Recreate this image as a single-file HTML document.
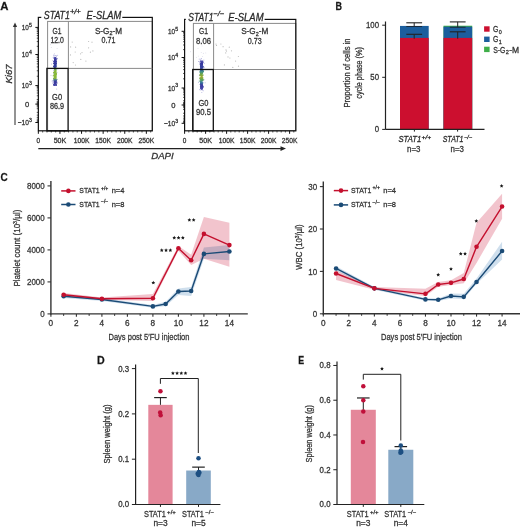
<!DOCTYPE html>
<html><head><meta charset="utf-8"><style>
html,body{margin:0;padding:0;background:#fff;}
body{width:520px;height:528px;overflow:hidden;}
svg{display:block;font-family:"Liberation Sans", sans-serif;}
text{stroke:#333;stroke-width:0.28px;}
</style></head><body>
<svg width="520" height="528" viewBox="0 0 520 528">
<rect width="520" height="528" fill="#fff"/>
<text x="0.2" y="9.7" font-size="11" font-weight="bold" textLength="8.2" lengthAdjust="spacingAndGlyphs" fill="#111">A</text>
<text x="335.5" y="9.6" font-size="11" font-weight="bold" textLength="6.5" lengthAdjust="spacingAndGlyphs" fill="#111">B</text>
<text x="0.6" y="181.0" font-size="11" font-weight="bold" textLength="7.2" lengthAdjust="spacingAndGlyphs" fill="#111">C</text>
<text x="97.1" y="363.5" font-size="11" font-weight="bold" textLength="7.7" lengthAdjust="spacingAndGlyphs" fill="#111">D</text>
<text x="298.3" y="363.5" font-size="11" font-weight="bold" textLength="5.9" lengthAdjust="spacingAndGlyphs" fill="#111">E</text>
<rect x="47.6" y="21.4" width="104.70000000000002" height="109.4" fill="none" stroke="#8a8a8a" stroke-width="1.0"/>
<rect x="38.35" y="17.4" width="113.95000000000002" height="113.4" fill="none" stroke="#111" stroke-width="1.2"/>
<line x1="68.4" y1="21.4" x2="68.4" y2="68.4" stroke="#8a8a8a" stroke-width="1.0"/>
<line x1="68.4" y1="68.4" x2="152.3" y2="68.4" stroke="#8a8a8a" stroke-width="1.0"/>
<circle cx="73.2" cy="62.6" r="0.6" fill="#bdbdbd"/>
<circle cx="88.6" cy="47.8" r="0.6" fill="#bdbdbd"/>
<circle cx="82.0" cy="52.6" r="0.6" fill="#bdbdbd"/>
<circle cx="85.9" cy="61.1" r="0.6" fill="#bdbdbd"/>
<circle cx="72.2" cy="42.1" r="0.6" fill="#bdbdbd"/>
<circle cx="90.4" cy="52.2" r="0.6" fill="#bdbdbd"/>
<circle cx="88.6" cy="41.5" r="0.6" fill="#bdbdbd"/>
<circle cx="80.8" cy="59.4" r="0.6" fill="#bdbdbd"/>
<circle cx="75.5" cy="65.0" r="0.6" fill="#bdbdbd"/>
<circle cx="92.0" cy="42.2" r="0.6" fill="#bdbdbd"/>
<circle cx="70.5" cy="54.9" r="0.6" fill="#bdbdbd"/>
<circle cx="92.9" cy="50.9" r="0.6" fill="#bdbdbd"/>
<circle cx="75.2" cy="52.0" r="0.6" fill="#bdbdbd"/>
<circle cx="70.6" cy="46.9" r="0.6" fill="#bdbdbd"/>
<circle cx="80.6" cy="53.8" r="0.6" fill="#bdbdbd"/>
<circle cx="75.6" cy="47.2" r="0.6" fill="#bdbdbd"/>
<circle cx="55.7" cy="42.4" r="0.45" fill="#c4c4d8"/>
<circle cx="58.4" cy="37.8" r="0.45" fill="#c4c4d8"/>
<circle cx="57.1" cy="48.4" r="0.45" fill="#c4c4d8"/>
<circle cx="51.8" cy="40.6" r="0.45" fill="#c4c4d8"/>
<circle cx="61.0" cy="39.5" r="0.45" fill="#c4c4d8"/>
<circle cx="54.8" cy="43.1" r="0.45" fill="#c4c4d8"/>
<circle cx="54.3" cy="53.5" r="0.45" fill="#c4c4d8"/>
<circle cx="50.4" cy="44.7" r="0.45" fill="#c4c4d8"/>
<circle cx="57.3" cy="42.6" r="0.45" fill="#c4c4d8"/>
<circle cx="51.2" cy="47.5" r="0.45" fill="#c4c4d8"/>
<circle cx="56.1" cy="85.4" r="0.5" fill="#b4b4e0"/>
<circle cx="53.6" cy="75.2" r="0.5" fill="#b4b4e0"/>
<circle cx="55.2" cy="55.8" r="0.5" fill="#b4b4e0"/>
<circle cx="57.8" cy="69.1" r="0.5" fill="#b4b4e0"/>
<circle cx="52.9" cy="60.6" r="0.5" fill="#b4b4e0"/>
<circle cx="54.4" cy="78.1" r="0.5" fill="#b4b4e0"/>
<circle cx="53.4" cy="67.7" r="0.5" fill="#b4b4e0"/>
<circle cx="55.8" cy="81.8" r="0.5" fill="#b4b4e0"/>
<circle cx="53.7" cy="72.8" r="0.5" fill="#b4b4e0"/>
<circle cx="56.2" cy="55.6" r="0.5" fill="#b4b4e0"/>
<circle cx="53.9" cy="56.1" r="0.5" fill="#b4b4e0"/>
<circle cx="51.0" cy="75.3" r="0.5" fill="#b4b4e0"/>
<circle cx="56.0" cy="68.3" r="0.5" fill="#b4b4e0"/>
<circle cx="56.7" cy="88.9" r="0.5" fill="#b4b4e0"/>
<circle cx="52.2" cy="81.5" r="0.5" fill="#b4b4e0"/>
<circle cx="54.4" cy="62.7" r="0.5" fill="#b4b4e0"/>
<circle cx="57.0" cy="72.5" r="0.5" fill="#b4b4e0"/>
<circle cx="54.5" cy="70.6" r="0.5" fill="#b4b4e0"/>
<circle cx="51.5" cy="64.0" r="0.5" fill="#b4b4e0"/>
<circle cx="54.0" cy="54.8" r="0.5" fill="#b4b4e0"/>
<circle cx="56.4" cy="81.9" r="0.5" fill="#b4b4e0"/>
<circle cx="52.3" cy="80.4" r="0.5" fill="#b4b4e0"/>
<circle cx="53.2" cy="82.8" r="0.5" fill="#b4b4e0"/>
<circle cx="54.9" cy="69.5" r="0.5" fill="#b4b4e0"/>
<circle cx="56.4" cy="56.6" r="0.5" fill="#b4b4e0"/>
<circle cx="53.7" cy="61.6" r="0.5" fill="#b4b4e0"/>
<circle cx="53.7" cy="72.2" r="0.5" fill="#b4b4e0"/>
<circle cx="55.2" cy="66.7" r="0.5" fill="#b4b4e0"/>
<circle cx="53.6" cy="73.4" r="0.5" fill="#b4b4e0"/>
<circle cx="53.7" cy="70.6" r="0.5" fill="#b4b4e0"/>
<circle cx="55.2" cy="55.6" r="0.5" fill="#b4b4e0"/>
<circle cx="56.0" cy="75.0" r="0.5" fill="#b4b4e0"/>
<circle cx="55.9" cy="84.6" r="0.5" fill="#b4b4e0"/>
<circle cx="52.5" cy="83.1" r="0.5" fill="#b4b4e0"/>
<circle cx="56.3" cy="63.5" r="0.5" fill="#b4b4e0"/>
<circle cx="53.2" cy="57.5" r="0.5" fill="#b4b4e0"/>
<circle cx="57.6" cy="55.2" r="0.5" fill="#b4b4e0"/>
<circle cx="55.3" cy="63.3" r="0.5" fill="#b4b4e0"/>
<circle cx="54.1" cy="58.4" r="0.5" fill="#b4b4e0"/>
<circle cx="54.1" cy="57.0" r="0.5" fill="#b4b4e0"/>
<circle cx="54.2" cy="60.2" r="0.5" fill="#b4b4e0"/>
<circle cx="54.9" cy="64.1" r="0.5" fill="#b4b4e0"/>
<circle cx="53.8" cy="79.4" r="0.5" fill="#b4b4e0"/>
<circle cx="55.5" cy="71.1" r="0.5" fill="#b4b4e0"/>
<circle cx="53.9" cy="55.4" r="0.5" fill="#b4b4e0"/>
<circle cx="55.6" cy="62.8" r="0.6" fill="#373c9e"/>
<circle cx="55.8" cy="60.6" r="0.6" fill="#393a9f"/>
<circle cx="54.6" cy="63.4" r="0.6" fill="#373c9e"/>
<circle cx="55.2" cy="74.5" r="0.6" fill="#89ba3a"/>
<circle cx="55.0" cy="58.1" r="0.6" fill="#4747aa"/>
<circle cx="55.0" cy="61.7" r="0.6" fill="#383b9f"/>
<circle cx="54.7" cy="77.3" r="0.6" fill="#8bbb3a"/>
<circle cx="54.6" cy="76.5" r="0.6" fill="#8abb3a"/>
<circle cx="55.0" cy="84.8" r="0.6" fill="#4444a6"/>
<circle cx="54.6" cy="79.9" r="0.6" fill="#4e7e93"/>
<circle cx="55.0" cy="75.7" r="0.6" fill="#8aba3a"/>
<circle cx="54.6" cy="68.6" r="0.6" fill="#528873"/>
<circle cx="54.8" cy="75.2" r="0.6" fill="#89ba3a"/>
<circle cx="54.6" cy="59.2" r="0.6" fill="#3f3fa4"/>
<circle cx="56.8" cy="82.0" r="0.6" fill="#3c3ca1"/>
<circle cx="55.5" cy="66.1" r="0.6" fill="#343f9c"/>
<circle cx="54.6" cy="83.8" r="0.6" fill="#4141a4"/>
<circle cx="54.7" cy="78.4" r="0.6" fill="#80b04a"/>
<circle cx="55.4" cy="57.8" r="0.6" fill="#4949ab"/>
<circle cx="56.3" cy="82.1" r="0.6" fill="#3d3da1"/>
<circle cx="55.4" cy="84.4" r="0.6" fill="#4343a5"/>
<circle cx="55.7" cy="73.5" r="0.6" fill="#88b93b"/>
<circle cx="56.3" cy="84.8" r="0.6" fill="#4444a6"/>
<circle cx="54.4" cy="77.2" r="0.6" fill="#8bbb3a"/>
<circle cx="55.1" cy="67.3" r="0.6" fill="#394c95"/>
<circle cx="54.8" cy="63.3" r="0.6" fill="#373c9e"/>
<circle cx="54.5" cy="63.0" r="0.6" fill="#373c9e"/>
<circle cx="54.8" cy="60.5" r="0.6" fill="#393a9f"/>
<circle cx="54.6" cy="71.5" r="0.6" fill="#87b83b"/>
<circle cx="56.1" cy="66.7" r="0.6" fill="#343f9c"/>
<circle cx="54.0" cy="58.1" r="0.6" fill="#4747aa"/>
<circle cx="54.2" cy="63.2" r="0.6" fill="#373c9e"/>
<circle cx="56.9" cy="79.4" r="0.6" fill="#5c8c7e"/>
<circle cx="55.3" cy="67.1" r="0.6" fill="#35429a"/>
<circle cx="56.1" cy="81.0" r="0.6" fill="#3a3b9f"/>
<circle cx="54.3" cy="83.6" r="0.6" fill="#4141a4"/>
<circle cx="56.3" cy="76.8" r="0.6" fill="#8bbb3a"/>
<circle cx="55.6" cy="71.1" r="0.6" fill="#86b83b"/>
<circle cx="55.1" cy="77.8" r="0.6" fill="#8bbb3a"/>
<circle cx="55.8" cy="60.0" r="0.6" fill="#3a3aa0"/>
<circle cx="56.4" cy="63.5" r="0.6" fill="#363d9d"/>
<circle cx="54.0" cy="78.8" r="0.6" fill="#72a25f"/>
<circle cx="54.3" cy="67.9" r="0.6" fill="#446786"/>
<circle cx="54.7" cy="67.1" r="0.6" fill="#354499"/>
<circle cx="56.4" cy="74.5" r="0.6" fill="#89ba3a"/>
<circle cx="55.4" cy="84.2" r="0.6" fill="#4343a5"/>
<circle cx="54.9" cy="73.0" r="0.6" fill="#88b93b"/>
<circle cx="55.4" cy="60.5" r="0.6" fill="#393a9f"/>
<circle cx="55.2" cy="81.8" r="0.6" fill="#3c3ca1"/>
<circle cx="55.4" cy="79.6" r="0.6" fill="#578786"/>
<circle cx="54.6" cy="74.8" r="0.6" fill="#89ba3a"/>
<circle cx="54.5" cy="79.4" r="0.6" fill="#5d8d7d"/>
<circle cx="55.7" cy="63.8" r="0.6" fill="#363d9d"/>
<circle cx="54.9" cy="59.9" r="0.6" fill="#3a3aa0"/>
<circle cx="56.5" cy="73.3" r="0.6" fill="#88b93b"/>
<circle cx="54.6" cy="83.4" r="0.6" fill="#4040a3"/>
<circle cx="55.2" cy="79.6" r="0.6" fill="#588884"/>
<circle cx="56.1" cy="80.7" r="0.6" fill="#3e4d9e"/>
<circle cx="55.2" cy="60.2" r="0.6" fill="#393a9f"/>
<circle cx="55.2" cy="60.8" r="0.6" fill="#393a9f"/>
<circle cx="55.0" cy="64.3" r="0.6" fill="#363d9d"/>
<circle cx="54.8" cy="85.2" r="0.6" fill="#4545a6"/>
<circle cx="55.3" cy="62.3" r="0.6" fill="#383b9e"/>
<circle cx="55.1" cy="64.3" r="0.6" fill="#363d9d"/>
<circle cx="54.8" cy="83.0" r="0.6" fill="#3f3fa3"/>
<circle cx="56.6" cy="68.2" r="0.6" fill="#49737f"/>
<circle cx="54.8" cy="65.8" r="0.6" fill="#353e9c"/>
<circle cx="54.8" cy="64.7" r="0.6" fill="#353e9d"/>
<circle cx="55.1" cy="75.8" r="0.6" fill="#8aba3a"/>
<circle cx="57.0" cy="58.7" r="0.6" fill="#4343a6"/>
<circle cx="55.2" cy="65.8" r="0.6" fill="#343f9c"/>
<circle cx="54.5" cy="74.2" r="0.6" fill="#89ba3a"/>
<circle cx="55.3" cy="59.4" r="0.6" fill="#3e3ea3"/>
<circle cx="56.9" cy="83.1" r="0.6" fill="#3f3fa3"/>
<circle cx="54.8" cy="60.7" r="0.6" fill="#393a9f"/>
<circle cx="53.7" cy="63.6" r="0.6" fill="#363d9d"/>
<circle cx="53.8" cy="72.7" r="0.6" fill="#88b93b"/>
<circle cx="54.8" cy="76.8" r="0.6" fill="#8bbb3a"/>
<circle cx="54.7" cy="72.7" r="0.6" fill="#88b93b"/>
<circle cx="55.1" cy="66.2" r="0.6" fill="#343f9c"/>
<circle cx="55.4" cy="65.4" r="0.6" fill="#353e9c"/>
<circle cx="54.2" cy="85.0" r="0.6" fill="#4545a6"/>
<circle cx="55.4" cy="75.6" r="0.6" fill="#8aba3a"/>
<circle cx="54.7" cy="83.8" r="0.6" fill="#4141a4"/>
<circle cx="55.5" cy="66.7" r="0.6" fill="#343f9c"/>
<circle cx="55.9" cy="66.4" r="0.6" fill="#343f9c"/>
<circle cx="53.9" cy="66.0" r="0.6" fill="#343f9c"/>
<circle cx="54.2" cy="66.9" r="0.6" fill="#343f9c"/>
<circle cx="54.9" cy="74.2" r="0.6" fill="#89ba3a"/>
<circle cx="55.6" cy="64.4" r="0.6" fill="#363d9d"/>
<circle cx="55.2" cy="59.6" r="0.6" fill="#3c3ca2"/>
<circle cx="55.3" cy="73.0" r="0.6" fill="#88b93b"/>
<circle cx="55.2" cy="75.3" r="0.6" fill="#89ba3a"/>
<circle cx="55.3" cy="65.7" r="0.6" fill="#353e9c"/>
<circle cx="54.3" cy="81.7" r="0.6" fill="#3b3ba1"/>
<circle cx="53.9" cy="61.9" r="0.6" fill="#383b9e"/>
<circle cx="55.1" cy="59.8" r="0.6" fill="#3b3ba1"/>
<circle cx="55.6" cy="84.1" r="0.6" fill="#4242a4"/>
<circle cx="56.1" cy="85.1" r="0.6" fill="#4545a6"/>
<circle cx="55.0" cy="80.5" r="0.6" fill="#41589d"/>
<circle cx="55.4" cy="72.0" r="0.6" fill="#87b83b"/>
<circle cx="54.7" cy="83.3" r="0.6" fill="#4040a3"/>
<circle cx="56.5" cy="61.6" r="0.6" fill="#383b9f"/>
<circle cx="55.7" cy="83.0" r="0.6" fill="#3f3fa3"/>
<circle cx="55.2" cy="82.8" r="0.6" fill="#3f3fa2"/>
<circle cx="56.2" cy="80.0" r="0.6" fill="#49789a"/>
<circle cx="54.4" cy="78.4" r="0.6" fill="#7eae4e"/>
<circle cx="55.4" cy="76.8" r="0.6" fill="#8bbb3a"/>
<circle cx="55.8" cy="62.0" r="0.6" fill="#383b9e"/>
<circle cx="54.8" cy="77.5" r="0.6" fill="#8bbb3a"/>
<circle cx="54.6" cy="59.4" r="0.6" fill="#3e3ea3"/>
<circle cx="55.4" cy="84.5" r="0.6" fill="#4343a5"/>
<circle cx="54.3" cy="72.7" r="0.6" fill="#88b93b"/>
<circle cx="54.4" cy="81.4" r="0.6" fill="#3a3aa0"/>
<circle cx="55.3" cy="67.0" r="0.6" fill="#34429a"/>
<circle cx="56.1" cy="64.8" r="0.6" fill="#353e9d"/>
<circle cx="55.2" cy="69.2" r="0.6" fill="#63a05f"/>
<circle cx="55.7" cy="73.5" r="0.6" fill="#88b93b"/>
<circle cx="55.3" cy="61.5" r="0.6" fill="#383b9f"/>
<circle cx="55.0" cy="61.1" r="0.6" fill="#393a9f"/>
<circle cx="56.4" cy="68.7" r="0.6" fill="#548c71"/>
<circle cx="54.7" cy="68.8" r="0.6" fill="#56906f"/>
<circle cx="54.8" cy="57.8" r="0.6" fill="#4a4aab"/>
<circle cx="54.1" cy="72.4" r="0.6" fill="#87b93b"/>
<circle cx="55.1" cy="69.8" r="0.6" fill="#7eb243"/>
<circle cx="55.0" cy="76.8" r="0.6" fill="#8bbb3a"/>
<circle cx="54.6" cy="71.4" r="0.6" fill="#87b83b"/>
<circle cx="55.2" cy="71.0" r="0.6" fill="#86b83b"/>
<circle cx="55.8" cy="73.2" r="0.6" fill="#88b93b"/>
<circle cx="55.6" cy="82.9" r="0.6" fill="#3f3fa3"/>
<circle cx="54.8" cy="75.6" r="0.6" fill="#8aba3a"/>
<circle cx="55.8" cy="58.9" r="0.6" fill="#4141a5"/>
<circle cx="55.5" cy="82.1" r="0.6" fill="#3d3da1"/>
<circle cx="55.2" cy="62.0" r="0.6" fill="#383b9e"/>
<circle cx="53.7" cy="66.3" r="0.6" fill="#343f9c"/>
<circle cx="55.5" cy="76.9" r="0.6" fill="#8bbb3a"/>
<circle cx="54.6" cy="77.2" r="0.6" fill="#8bbb3a"/>
<circle cx="54.0" cy="78.1" r="0.6" fill="#87b741"/>
<circle cx="54.4" cy="82.6" r="0.6" fill="#3e3ea2"/>
<circle cx="54.7" cy="84.4" r="0.6" fill="#4343a5"/>
<circle cx="54.9" cy="64.6" r="0.6" fill="#363d9d"/>
<circle cx="54.1" cy="63.7" r="0.6" fill="#363d9d"/>
<circle cx="54.6" cy="59.1" r="0.6" fill="#4040a5"/>
<circle cx="55.0" cy="76.6" r="0.6" fill="#8abb3a"/>
<circle cx="54.5" cy="72.0" r="0.6" fill="#87b83b"/>
<circle cx="55.1" cy="62.2" r="0.6" fill="#383b9e"/>
<circle cx="54.9" cy="85.0" r="0.6" fill="#4545a6"/>
<circle cx="54.7" cy="80.1" r="0.6" fill="#47709a"/>
<circle cx="54.7" cy="83.1" r="0.6" fill="#3f3fa3"/>
<circle cx="55.9" cy="84.4" r="0.6" fill="#4343a5"/>
<circle cx="56.0" cy="81.1" r="0.6" fill="#3a3aa0"/>
<circle cx="54.9" cy="76.0" r="0.6" fill="#8abb3a"/>
<circle cx="54.4" cy="83.4" r="0.6" fill="#4040a3"/>
<circle cx="54.2" cy="84.7" r="0.6" fill="#4444a5"/>
<circle cx="55.9" cy="69.7" r="0.6" fill="#77ae4a"/>
<circle cx="54.9" cy="62.2" r="0.6" fill="#383b9e"/>
<circle cx="55.4" cy="83.0" r="0.6" fill="#3f3fa3"/>
<circle cx="55.8" cy="84.4" r="0.6" fill="#4343a5"/>
<circle cx="55.7" cy="69.0" r="0.6" fill="#59996a"/>
<circle cx="55.0" cy="60.9" r="0.6" fill="#393a9f"/>
<circle cx="55.6" cy="78.5" r="0.6" fill="#7bab52"/>
<circle cx="55.4" cy="57.7" r="0.6" fill="#4a4aac"/>
<circle cx="55.8" cy="58.2" r="0.6" fill="#4747a9"/>
<circle cx="54.1" cy="75.1" r="0.6" fill="#89ba3a"/>
<circle cx="54.3" cy="63.4" r="0.6" fill="#373c9e"/>
<circle cx="54.6" cy="65.5" r="0.6" fill="#353e9c"/>
<circle cx="55.0" cy="73.9" r="0.6" fill="#88b93b"/>
<circle cx="54.6" cy="64.6" r="0.6" fill="#363d9d"/>
<circle cx="54.0" cy="80.2" r="0.6" fill="#476f9a"/>
<circle cx="54.3" cy="84.8" r="0.6" fill="#4444a6"/>
<circle cx="54.9" cy="81.5" r="0.6" fill="#3b3ba0"/>
<circle cx="54.5" cy="79.1" r="0.6" fill="#69996c"/>
<circle cx="54.8" cy="65.5" r="0.6" fill="#353e9c"/>
<circle cx="55.2" cy="60.6" r="0.6" fill="#393a9f"/>
<circle cx="54.8" cy="78.4" r="0.6" fill="#7dad4f"/>
<circle cx="56.2" cy="72.8" r="0.6" fill="#88b93b"/>
<circle cx="54.8" cy="84.8" r="0.6" fill="#4444a6"/>
<circle cx="54.2" cy="61.4" r="0.6" fill="#383b9f"/>
<circle cx="55.1" cy="66.3" r="0.6" fill="#343f9c"/>
<circle cx="54.6" cy="71.6" r="0.6" fill="#87b83b"/>
<circle cx="55.8" cy="57.6" r="0.6" fill="#4b4bac"/>
<circle cx="54.5" cy="69.9" r="0.6" fill="#83b63e"/>
<circle cx="55.3" cy="68.7" r="0.6" fill="#558e70"/>
<circle cx="54.8" cy="79.4" r="0.6" fill="#5c8c7f"/>
<circle cx="54.4" cy="75.7" r="0.6" fill="#8aba3a"/>
<circle cx="55.1" cy="68.1" r="0.6" fill="#49737f"/>
<circle cx="55.2" cy="65.3" r="0.6" fill="#353e9c"/>
<circle cx="56.0" cy="74.3" r="0.6" fill="#89ba3a"/>
<circle cx="54.2" cy="71.9" r="0.6" fill="#87b83b"/>
<circle cx="53.8" cy="85.1" r="0.6" fill="#4545a6"/>
<circle cx="55.4" cy="69.0" r="0.6" fill="#5a9a69"/>
<circle cx="55.7" cy="78.4" r="0.6" fill="#7faf4c"/>
<circle cx="55.1" cy="62.4" r="0.6" fill="#373c9e"/>
<circle cx="54.5" cy="74.9" r="0.6" fill="#89ba3a"/>
<circle cx="55.0" cy="57.7" r="0.6" fill="#4a4aac"/>
<circle cx="54.5" cy="68.5" r="0.6" fill="#4f8177"/>
<circle cx="55.4" cy="81.6" r="0.6" fill="#3b3ba1"/>
<circle cx="55.0" cy="73.9" r="0.6" fill="#88b93b"/>
<circle cx="53.7" cy="78.5" r="0.6" fill="#7bab51"/>
<circle cx="55.1" cy="71.3" r="0.6" fill="#87b83b"/>
<circle cx="54.1" cy="75.7" r="0.6" fill="#8aba3a"/>
<circle cx="54.3" cy="75.2" r="0.6" fill="#89ba3a"/>
<circle cx="55.6" cy="75.3" r="0.6" fill="#89ba3a"/>
<circle cx="55.4" cy="83.7" r="0.6" fill="#4141a4"/>
<circle cx="53.8" cy="79.0" r="0.6" fill="#6a9a6a"/>
<circle cx="54.6" cy="80.3" r="0.6" fill="#44639c"/>
<circle cx="54.7" cy="65.0" r="0.6" fill="#353e9d"/>
<circle cx="55.7" cy="77.4" r="0.6" fill="#8bbb3a"/>
<circle cx="54.5" cy="61.8" r="0.6" fill="#383b9e"/>
<circle cx="54.3" cy="80.8" r="0.6" fill="#3c449f"/>
<circle cx="55.2" cy="58.9" r="0.6" fill="#4242a6"/>
<circle cx="55.1" cy="71.8" r="0.6" fill="#87b83b"/>
<circle cx="54.4" cy="67.5" r="0.6" fill="#3d568f"/>
<circle cx="55.9" cy="75.9" r="0.6" fill="#8aba3a"/>
<circle cx="55.2" cy="84.0" r="0.6" fill="#4242a4"/>
<circle cx="54.3" cy="76.9" r="0.6" fill="#8bbb3a"/>
<circle cx="55.7" cy="74.5" r="0.6" fill="#89ba3a"/>
<circle cx="55.5" cy="63.4" r="0.6" fill="#373c9e"/>
<circle cx="56.5" cy="65.1" r="0.6" fill="#353e9d"/>
<circle cx="55.5" cy="59.7" r="0.6" fill="#3c3ca1"/>
<circle cx="54.4" cy="67.9" r="0.6" fill="#446786"/>
<circle cx="55.1" cy="71.9" r="0.6" fill="#87b83b"/>
<circle cx="54.7" cy="75.8" r="0.6" fill="#8aba3a"/>
<circle cx="55.3" cy="77.5" r="0.6" fill="#8bbb3a"/>
<circle cx="54.6" cy="74.6" r="0.6" fill="#89ba3a"/>
<circle cx="54.7" cy="64.1" r="0.6" fill="#363d9d"/>
<circle cx="54.9" cy="79.6" r="0.6" fill="#568688"/>
<circle cx="54.9" cy="81.8" r="0.6" fill="#3c3ca1"/>
<circle cx="55.5" cy="84.5" r="0.6" fill="#4343a5"/>
<circle cx="55.2" cy="77.3" r="0.6" fill="#8bbb3a"/>
<circle cx="55.0" cy="82.7" r="0.6" fill="#3e3ea2"/>
<circle cx="54.8" cy="75.0" r="0.6" fill="#89ba3a"/>
<circle cx="55.8" cy="78.8" r="0.6" fill="#70a062"/>
<circle cx="55.5" cy="79.5" r="0.6" fill="#5a8a82"/>
<circle cx="56.0" cy="62.2" r="0.6" fill="#383b9e"/>
<circle cx="53.7" cy="84.7" r="0.6" fill="#4444a5"/>
<circle cx="55.6" cy="77.9" r="0.6" fill="#8bbb3a"/>
<circle cx="55.0" cy="74.5" r="0.6" fill="#89ba3a"/>
<circle cx="55.9" cy="61.5" r="0.6" fill="#383b9f"/>
<circle cx="55.0" cy="61.5" r="0.6" fill="#383b9f"/>
<circle cx="54.5" cy="78.6" r="0.6" fill="#79a955"/>
<circle cx="54.9" cy="64.3" r="0.6" fill="#363d9d"/>
<circle cx="54.0" cy="66.1" r="0.6" fill="#343f9c"/>
<circle cx="54.5" cy="60.6" r="0.6" fill="#393a9f"/>
<circle cx="55.6" cy="60.4" r="0.6" fill="#393a9f"/>
<circle cx="56.0" cy="62.8" r="0.6" fill="#373c9e"/>
<circle cx="55.4" cy="82.4" r="0.6" fill="#3d3da2"/>
<circle cx="56.1" cy="63.6" r="0.6" fill="#363d9d"/>
<circle cx="55.3" cy="80.3" r="0.6" fill="#44649c"/>
<circle cx="54.6" cy="84.5" r="0.6" fill="#4343a5"/>
<circle cx="54.7" cy="81.0" r="0.6" fill="#3a3b9f"/>
<circle cx="55.0" cy="60.9" r="0.6" fill="#393a9f"/>
<circle cx="54.8" cy="68.8" r="0.6" fill="#558e70"/>
<circle cx="54.8" cy="71.4" r="0.6" fill="#87b83b"/>
<circle cx="55.4" cy="64.1" r="0.6" fill="#363d9d"/>
<circle cx="54.2" cy="80.5" r="0.6" fill="#425b9c"/>
<circle cx="55.3" cy="63.5" r="0.6" fill="#363d9d"/>
<circle cx="54.7" cy="77.5" r="0.6" fill="#8bbb3a"/>
<circle cx="55.9" cy="83.0" r="0.6" fill="#3f3fa3"/>
<circle cx="56.3" cy="85.3" r="0.6" fill="#4646a6"/>
<circle cx="55.4" cy="81.5" r="0.6" fill="#3b3ba0"/>
<circle cx="54.4" cy="66.5" r="0.6" fill="#343f9c"/>
<circle cx="55.7" cy="83.2" r="0.6" fill="#4040a3"/>
<circle cx="55.9" cy="68.8" r="0.6" fill="#558f70"/>
<circle cx="54.3" cy="61.8" r="0.6" fill="#383b9e"/>
<circle cx="55.5" cy="83.1" r="0.6" fill="#3f3fa3"/>
<circle cx="55.1" cy="76.1" r="0.6" fill="#8abb3a"/>
<circle cx="54.8" cy="59.2" r="0.6" fill="#3f3fa4"/>
<circle cx="55.3" cy="70.5" r="0.6" fill="#86b83b"/>
<circle cx="55.3" cy="81.0" r="0.6" fill="#3a3aa0"/>
<circle cx="55.0" cy="59.3" r="0.6" fill="#3f3fa3"/>
<circle cx="55.6" cy="81.1" r="0.6" fill="#3a3aa0"/>
<circle cx="55.2" cy="60.9" r="0.6" fill="#393a9f"/>
<circle cx="56.1" cy="60.1" r="0.6" fill="#393a9f"/>
<circle cx="55.3" cy="78.4" r="0.6" fill="#7faf4b"/>
<circle cx="55.7" cy="76.8" r="0.6" fill="#8bbb3a"/>
<circle cx="54.3" cy="68.5" r="0.6" fill="#4f8277"/>
<circle cx="56.1" cy="75.2" r="0.6" fill="#89ba3a"/>
<circle cx="54.9" cy="64.4" r="0.6" fill="#363d9d"/>
<circle cx="55.9" cy="59.3" r="0.6" fill="#3f3fa3"/>
<circle cx="54.7" cy="67.4" r="0.6" fill="#3a4f93"/>
<circle cx="54.3" cy="74.5" r="0.6" fill="#89ba3a"/>
<circle cx="54.8" cy="59.3" r="0.6" fill="#3f3fa3"/>
<circle cx="54.7" cy="67.5" r="0.6" fill="#3c5490"/>
<circle cx="55.3" cy="82.2" r="0.6" fill="#3d3da1"/>
<circle cx="54.5" cy="69.4" r="0.6" fill="#6da656"/>
<circle cx="54.2" cy="78.3" r="0.6" fill="#80b04a"/>
<circle cx="55.1" cy="77.7" r="0.6" fill="#8bbb3a"/>
<circle cx="54.6" cy="84.8" r="0.6" fill="#4444a6"/>
<circle cx="56.3" cy="61.8" r="0.6" fill="#383b9e"/>
<circle cx="54.4" cy="81.4" r="0.6" fill="#3b3ba0"/>
<circle cx="56.1" cy="59.1" r="0.6" fill="#4040a4"/>
<circle cx="55.8" cy="70.7" r="0.6" fill="#86b83b"/>
<circle cx="55.3" cy="67.9" r="0.6" fill="#456984"/>
<circle cx="55.1" cy="72.4" r="0.6" fill="#87b93b"/>
<circle cx="55.6" cy="70.0" r="0.6" fill="#84b73d"/>
<circle cx="55.6" cy="77.3" r="0.6" fill="#8bbb3a"/>
<circle cx="55.9" cy="82.2" r="0.6" fill="#3d3da1"/>
<circle cx="55.2" cy="60.1" r="0.6" fill="#393a9f"/>
<circle cx="55.3" cy="79.9" r="0.6" fill="#4c7c96"/>
<circle cx="55.2" cy="68.3" r="0.6" fill="#4d7b7a"/>
<circle cx="55.0" cy="78.0" r="0.6" fill="#8aba3b"/>
<circle cx="55.4" cy="79.8" r="0.6" fill="#51818e"/>
<circle cx="55.5" cy="80.1" r="0.6" fill="#48729a"/>
<circle cx="54.6" cy="69.5" r="0.6" fill="#6da755"/>
<circle cx="54.5" cy="64.4" r="0.6" fill="#363d9d"/>
<circle cx="54.9" cy="67.0" r="0.6" fill="#34429a"/>
<circle cx="56.0" cy="79.5" r="0.6" fill="#5b8b80"/>
<circle cx="54.9" cy="60.5" r="0.6" fill="#393a9f"/>
<circle cx="53.2" cy="75.8" r="0.6" fill="#8aba3a"/>
<circle cx="55.7" cy="77.7" r="0.6" fill="#8bbb3a"/>
<circle cx="54.8" cy="80.9" r="0.6" fill="#3b419f"/>
<circle cx="54.3" cy="82.6" r="0.6" fill="#3e3ea2"/>
<circle cx="55.0" cy="80.8" r="0.6" fill="#3d469e"/>
<circle cx="55.5" cy="67.9" r="0.6" fill="#456984"/>
<circle cx="55.6" cy="72.1" r="0.6" fill="#87b93b"/>
<circle cx="55.5" cy="73.6" r="0.6" fill="#88b93b"/>
<circle cx="55.5" cy="58.8" r="0.6" fill="#4242a6"/>
<circle cx="54.2" cy="66.4" r="0.6" fill="#343f9c"/>
<circle cx="54.7" cy="65.9" r="0.6" fill="#343f9c"/>
<circle cx="55.6" cy="78.5" r="0.6" fill="#7cac51"/>
<circle cx="54.7" cy="71.6" r="0.6" fill="#87b83b"/>
<circle cx="55.0" cy="83.1" r="0.6" fill="#3f3fa3"/>
<circle cx="55.0" cy="66.7" r="0.6" fill="#343f9c"/>
<circle cx="55.3" cy="84.9" r="0.6" fill="#4444a6"/>
<circle cx="56.4" cy="71.0" r="0.6" fill="#86b83b"/>
<circle cx="54.3" cy="84.7" r="0.6" fill="#4444a5"/>
<circle cx="56.5" cy="80.4" r="0.6" fill="#44639c"/>
<circle cx="54.4" cy="80.0" r="0.6" fill="#4b7b97"/>
<circle cx="54.2" cy="61.4" r="0.6" fill="#383b9f"/>
<rect x="46.9" y="68.4" width="21.200000000000003" height="62.400000000000006" fill="none" stroke="#111" stroke-width="1.3"/>
<line x1="35.35" y1="27.4" x2="38.35" y2="27.4" stroke="#111" stroke-width="1.0"/>
<text x="28.85" y="30.2" font-size="7.6" text-anchor="end" textLength="7.1" lengthAdjust="spacingAndGlyphs" fill="#333">10</text>
<text x="28.950000000000003" y="26.799999999999997" font-size="5.0" textLength="2.9" lengthAdjust="spacingAndGlyphs" fill="#333">5</text>
<line x1="35.35" y1="54.5" x2="38.35" y2="54.5" stroke="#111" stroke-width="1.0"/>
<text x="28.85" y="57.3" font-size="7.6" text-anchor="end" textLength="7.1" lengthAdjust="spacingAndGlyphs" fill="#333">10</text>
<text x="28.950000000000003" y="53.9" font-size="5.0" textLength="2.9" lengthAdjust="spacingAndGlyphs" fill="#333">4</text>
<line x1="35.35" y1="85.6" x2="38.35" y2="85.6" stroke="#111" stroke-width="1.0"/>
<text x="28.85" y="88.39999999999999" font-size="7.6" text-anchor="end" textLength="7.1" lengthAdjust="spacingAndGlyphs" fill="#333">10</text>
<text x="28.950000000000003" y="85.0" font-size="5.0" textLength="2.9" lengthAdjust="spacingAndGlyphs" fill="#333">3</text>
<line x1="35.35" y1="104.1" x2="38.35" y2="104.1" stroke="#111" stroke-width="1.0"/>
<text x="29.150000000000002" y="106.8" font-size="7.6" text-anchor="end" fill="#333">0</text>
<line x1="35.35" y1="122.5" x2="38.35" y2="122.5" stroke="#111" stroke-width="1.0"/>
<text x="28.85" y="125.3" font-size="7.6" text-anchor="end" textLength="11.2" lengthAdjust="spacingAndGlyphs" fill="#333">−10</text>
<text x="28.950000000000003" y="121.9" font-size="5.0" textLength="2.9" lengthAdjust="spacingAndGlyphs" fill="#333">3</text>
<line x1="36.75" y1="46.34208711750611" x2="38.35" y2="46.34208711750611" stroke="#111" stroke-width="0.7"/>
<line x1="36.75" y1="41.57001399709715" x2="38.35" y2="41.57001399709715" stroke="#111" stroke-width="0.7"/>
<line x1="36.75" y1="38.18417423501222" x2="38.35" y2="38.18417423501222" stroke="#111" stroke-width="0.7"/>
<line x1="36.75" y1="35.55791288249389" x2="38.35" y2="35.55791288249389" stroke="#111" stroke-width="0.7"/>
<line x1="36.75" y1="33.41210111460326" x2="38.35" y2="33.41210111460326" stroke="#111" stroke-width="0.7"/>
<line x1="36.75" y1="31.59784311561364" x2="38.35" y2="31.59784311561364" stroke="#111" stroke-width="0.7"/>
<line x1="36.75" y1="30.02626135251833" x2="38.35" y2="30.02626135251833" stroke="#111" stroke-width="0.7"/>
<line x1="36.75" y1="28.640027994194295" x2="38.35" y2="28.640027994194295" stroke="#111" stroke-width="0.7"/>
<line x1="36.75" y1="76.23796713485018" x2="38.35" y2="76.23796713485018" stroke="#111" stroke-width="0.7"/>
<line x1="36.75" y1="70.7615289782185" x2="38.35" y2="70.7615289782185" stroke="#111" stroke-width="0.7"/>
<line x1="36.75" y1="66.87593426970037" x2="38.35" y2="66.87593426970037" stroke="#111" stroke-width="0.7"/>
<line x1="36.75" y1="63.862032865149814" x2="38.35" y2="63.862032865149814" stroke="#111" stroke-width="0.7"/>
<line x1="36.75" y1="61.39949611306868" x2="38.35" y2="61.39949611306868" stroke="#111" stroke-width="0.7"/>
<line x1="36.75" y1="59.31745095555661" x2="38.35" y2="59.31745095555661" stroke="#111" stroke-width="0.7"/>
<line x1="36.75" y1="57.51390140455055" x2="38.35" y2="57.51390140455055" stroke="#111" stroke-width="0.7"/>
<line x1="36.75" y1="55.92305795643699" x2="38.35" y2="55.92305795643699" stroke="#111" stroke-width="0.7"/>
<line x1="36.75" y1="103.36" x2="38.35" y2="103.36" stroke="#111" stroke-width="0.7"/>
<line x1="36.75" y1="104.836" x2="38.35" y2="104.836" stroke="#111" stroke-width="0.7"/>
<line x1="36.75" y1="102.43499999999999" x2="38.35" y2="102.43499999999999" stroke="#111" stroke-width="0.7"/>
<line x1="36.75" y1="105.756" x2="38.35" y2="105.756" stroke="#111" stroke-width="0.7"/>
<line x1="36.75" y1="101.32499999999999" x2="38.35" y2="101.32499999999999" stroke="#111" stroke-width="0.7"/>
<line x1="36.75" y1="106.86" x2="38.35" y2="106.86" stroke="#111" stroke-width="0.7"/>
<line x1="36.75" y1="99.475" x2="38.35" y2="99.475" stroke="#111" stroke-width="0.7"/>
<line x1="36.75" y1="108.69999999999999" x2="38.35" y2="108.69999999999999" stroke="#111" stroke-width="0.7"/>
<line x1="36.75" y1="95.77499999999999" x2="38.35" y2="95.77499999999999" stroke="#111" stroke-width="0.7"/>
<line x1="36.75" y1="112.38" x2="38.35" y2="112.38" stroke="#111" stroke-width="0.7"/>
<line x1="36.75" y1="93.0" x2="38.35" y2="93.0" stroke="#111" stroke-width="0.7"/>
<line x1="36.75" y1="115.14" x2="38.35" y2="115.14" stroke="#111" stroke-width="0.7"/>
<line x1="36.75" y1="90.78" x2="38.35" y2="90.78" stroke="#111" stroke-width="0.7"/>
<line x1="36.75" y1="117.348" x2="38.35" y2="117.348" stroke="#111" stroke-width="0.7"/>
<line x1="36.75" y1="88.92999999999999" x2="38.35" y2="88.92999999999999" stroke="#111" stroke-width="0.7"/>
<line x1="36.75" y1="119.188" x2="38.35" y2="119.188" stroke="#111" stroke-width="0.7"/>
<line x1="36.75" y1="87.44999999999999" x2="38.35" y2="87.44999999999999" stroke="#111" stroke-width="0.7"/>
<line x1="36.75" y1="120.66" x2="38.35" y2="120.66" stroke="#111" stroke-width="0.7"/>
<line x1="36.75" y1="86.34" x2="38.35" y2="86.34" stroke="#111" stroke-width="0.7"/>
<line x1="36.75" y1="121.764" x2="38.35" y2="121.764" stroke="#111" stroke-width="0.7"/>
<line x1="38.35" y1="130.8" x2="38.35" y2="133.8" stroke="#111" stroke-width="1.0"/>
<line x1="42.67" y1="130.8" x2="42.67" y2="132.5" stroke="#111" stroke-width="0.7"/>
<line x1="46.99" y1="130.8" x2="46.99" y2="132.5" stroke="#111" stroke-width="0.7"/>
<line x1="51.31" y1="130.8" x2="51.31" y2="132.5" stroke="#111" stroke-width="0.7"/>
<line x1="55.63" y1="130.8" x2="55.63" y2="132.5" stroke="#111" stroke-width="0.7"/>
<line x1="59.95" y1="130.8" x2="59.95" y2="133.8" stroke="#111" stroke-width="1.0"/>
<line x1="64.27000000000001" y1="130.8" x2="64.27000000000001" y2="132.5" stroke="#111" stroke-width="0.7"/>
<line x1="68.59" y1="130.8" x2="68.59" y2="132.5" stroke="#111" stroke-width="0.7"/>
<line x1="72.91" y1="130.8" x2="72.91" y2="132.5" stroke="#111" stroke-width="0.7"/>
<line x1="77.23" y1="130.8" x2="77.23" y2="132.5" stroke="#111" stroke-width="0.7"/>
<line x1="81.55000000000001" y1="130.8" x2="81.55000000000001" y2="133.8" stroke="#111" stroke-width="1.0"/>
<line x1="85.87" y1="130.8" x2="85.87" y2="132.5" stroke="#111" stroke-width="0.7"/>
<line x1="90.19000000000001" y1="130.8" x2="90.19000000000001" y2="132.5" stroke="#111" stroke-width="0.7"/>
<line x1="94.51" y1="130.8" x2="94.51" y2="132.5" stroke="#111" stroke-width="0.7"/>
<line x1="98.83000000000001" y1="130.8" x2="98.83000000000001" y2="132.5" stroke="#111" stroke-width="0.7"/>
<line x1="103.15" y1="130.8" x2="103.15" y2="133.8" stroke="#111" stroke-width="1.0"/>
<line x1="107.47" y1="130.8" x2="107.47" y2="132.5" stroke="#111" stroke-width="0.7"/>
<line x1="111.79000000000002" y1="130.8" x2="111.79000000000002" y2="132.5" stroke="#111" stroke-width="0.7"/>
<line x1="116.11000000000001" y1="130.8" x2="116.11000000000001" y2="132.5" stroke="#111" stroke-width="0.7"/>
<line x1="120.43" y1="130.8" x2="120.43" y2="132.5" stroke="#111" stroke-width="0.7"/>
<line x1="124.75" y1="130.8" x2="124.75" y2="133.8" stroke="#111" stroke-width="1.0"/>
<line x1="129.07" y1="130.8" x2="129.07" y2="132.5" stroke="#111" stroke-width="0.7"/>
<line x1="133.39000000000001" y1="130.8" x2="133.39000000000001" y2="132.5" stroke="#111" stroke-width="0.7"/>
<line x1="137.71" y1="130.8" x2="137.71" y2="132.5" stroke="#111" stroke-width="0.7"/>
<line x1="142.03000000000003" y1="130.8" x2="142.03000000000003" y2="132.5" stroke="#111" stroke-width="0.7"/>
<line x1="146.35" y1="130.8" x2="146.35" y2="133.8" stroke="#111" stroke-width="1.0"/>
<line x1="150.67000000000002" y1="130.8" x2="150.67000000000002" y2="132.5" stroke="#111" stroke-width="0.7"/>
<text x="38.35" y="142.6" font-size="6.9" text-anchor="middle" textLength="3.6" lengthAdjust="spacingAndGlyphs" fill="#333">0</text>
<text x="59.95" y="142.6" font-size="6.9" text-anchor="middle" textLength="12.6" lengthAdjust="spacingAndGlyphs" fill="#333">50K</text>
<text x="81.55000000000001" y="142.6" font-size="6.9" text-anchor="middle" textLength="15.6" lengthAdjust="spacingAndGlyphs" fill="#333">100K</text>
<text x="103.15" y="142.6" font-size="6.9" text-anchor="middle" textLength="15.6" lengthAdjust="spacingAndGlyphs" fill="#333">150K</text>
<text x="124.75" y="142.6" font-size="6.9" text-anchor="middle" textLength="15.6" lengthAdjust="spacingAndGlyphs" fill="#333">200K</text>
<text x="146.35" y="142.6" font-size="6.9" text-anchor="middle" textLength="15.6" lengthAdjust="spacingAndGlyphs" fill="#333">250K</text>
<rect x="41.3" y="15.399999999999999" width="81.0" height="4" fill="#fff" stroke="none" stroke-width="1"/>
<text x="43.8" y="18.5" font-size="10.2" font-style="italic" textLength="26.1" lengthAdjust="spacingAndGlyphs" fill="#222">STAT1</text>
<text x="69.9" y="14.3" font-size="6.4" font-style="italic" textLength="10.8" lengthAdjust="spacingAndGlyphs" fill="#222">+/+</text>
<text x="86.6" y="18.5" font-size="10.2" font-style="italic" textLength="34.7" lengthAdjust="spacingAndGlyphs" fill="#222">E-SLAM</text>
<text x="57.1" y="33.6" font-size="8.4" text-anchor="middle" textLength="9.0" lengthAdjust="spacingAndGlyphs" fill="#333">G1</text>
<text x="57.1" y="42.7" font-size="8.4" text-anchor="middle" textLength="13.4" lengthAdjust="spacingAndGlyphs" fill="#333">12.0</text>
<text x="108.45" y="33.6" font-size="8.2" text-anchor="middle" fill="#333">S-G<tspan font-size="5.4" dy="1.8">2</tspan><tspan dy="-1.8">-M</tspan></text>
<text x="108.45" y="42.7" font-size="8.4" text-anchor="middle" textLength="13.8" lengthAdjust="spacingAndGlyphs" fill="#333">0.71</text>
<text x="57.1" y="99.9" font-size="8.4" text-anchor="middle" textLength="10.0" lengthAdjust="spacingAndGlyphs" fill="#333">G0</text>
<text x="57.1" y="108.9" font-size="8.4" text-anchor="middle" textLength="14.1" lengthAdjust="spacingAndGlyphs" fill="#333">86.9</text>
<rect x="193.4" y="23.4" width="102.4" height="107.4" fill="none" stroke="#8a8a8a" stroke-width="1.0"/>
<rect x="184.6" y="19.4" width="111.20000000000002" height="111.4" fill="none" stroke="#111" stroke-width="1.2"/>
<line x1="213.6" y1="23.4" x2="213.6" y2="69.5" stroke="#8a8a8a" stroke-width="1.0"/>
<line x1="213.6" y1="69.5" x2="295.8" y2="69.5" stroke="#8a8a8a" stroke-width="1.0"/>
<circle cx="238.5" cy="66.2" r="0.6" fill="#bdbdbd"/>
<circle cx="216.5" cy="45.4" r="0.6" fill="#bdbdbd"/>
<circle cx="235.6" cy="61.1" r="0.6" fill="#bdbdbd"/>
<circle cx="231.5" cy="50.8" r="0.6" fill="#bdbdbd"/>
<circle cx="229.9" cy="58.0" r="0.6" fill="#bdbdbd"/>
<circle cx="229.3" cy="47.2" r="0.6" fill="#bdbdbd"/>
<circle cx="225.7" cy="52.9" r="0.6" fill="#bdbdbd"/>
<circle cx="232.8" cy="67.4" r="0.6" fill="#bdbdbd"/>
<circle cx="238.4" cy="56.5" r="0.6" fill="#bdbdbd"/>
<circle cx="226.0" cy="49.9" r="0.6" fill="#bdbdbd"/>
<circle cx="216.0" cy="44.1" r="0.6" fill="#bdbdbd"/>
<circle cx="226.5" cy="51.1" r="0.6" fill="#bdbdbd"/>
<circle cx="224.4" cy="64.9" r="0.6" fill="#bdbdbd"/>
<circle cx="228.0" cy="56.9" r="0.6" fill="#bdbdbd"/>
<circle cx="220.9" cy="44.0" r="0.6" fill="#bdbdbd"/>
<circle cx="223.1" cy="46.7" r="0.6" fill="#bdbdbd"/>
<circle cx="190.7" cy="51.8" r="0.45" fill="#c4c4d8"/>
<circle cx="200.9" cy="42.7" r="0.45" fill="#c4c4d8"/>
<circle cx="205.8" cy="52.9" r="0.45" fill="#c4c4d8"/>
<circle cx="198.3" cy="56.1" r="0.45" fill="#c4c4d8"/>
<circle cx="202.0" cy="45.9" r="0.45" fill="#c4c4d8"/>
<circle cx="196.3" cy="57.4" r="0.45" fill="#c4c4d8"/>
<circle cx="203.3" cy="53.3" r="0.45" fill="#c4c4d8"/>
<circle cx="201.2" cy="52.6" r="0.45" fill="#c4c4d8"/>
<circle cx="198.0" cy="48.4" r="0.45" fill="#c4c4d8"/>
<circle cx="202.5" cy="56.4" r="0.45" fill="#c4c4d8"/>
<circle cx="202.3" cy="75.4" r="0.5" fill="#b4b4e0"/>
<circle cx="200.4" cy="88.9" r="0.5" fill="#b4b4e0"/>
<circle cx="199.7" cy="89.5" r="0.5" fill="#b4b4e0"/>
<circle cx="202.1" cy="90.2" r="0.5" fill="#b4b4e0"/>
<circle cx="200.5" cy="83.3" r="0.5" fill="#b4b4e0"/>
<circle cx="201.7" cy="69.2" r="0.5" fill="#b4b4e0"/>
<circle cx="203.2" cy="82.4" r="0.5" fill="#b4b4e0"/>
<circle cx="204.4" cy="67.2" r="0.5" fill="#b4b4e0"/>
<circle cx="200.2" cy="89.9" r="0.5" fill="#b4b4e0"/>
<circle cx="205.1" cy="82.7" r="0.5" fill="#b4b4e0"/>
<circle cx="199.4" cy="75.5" r="0.5" fill="#b4b4e0"/>
<circle cx="201.4" cy="78.5" r="0.5" fill="#b4b4e0"/>
<circle cx="202.1" cy="68.8" r="0.5" fill="#b4b4e0"/>
<circle cx="203.3" cy="90.7" r="0.5" fill="#b4b4e0"/>
<circle cx="204.1" cy="79.7" r="0.5" fill="#b4b4e0"/>
<circle cx="202.9" cy="83.4" r="0.5" fill="#b4b4e0"/>
<circle cx="202.5" cy="89.7" r="0.5" fill="#b4b4e0"/>
<circle cx="203.9" cy="59.9" r="0.5" fill="#b4b4e0"/>
<circle cx="201.4" cy="80.8" r="0.5" fill="#b4b4e0"/>
<circle cx="202.7" cy="88.6" r="0.5" fill="#b4b4e0"/>
<circle cx="198.7" cy="61.5" r="0.5" fill="#b4b4e0"/>
<circle cx="201.2" cy="66.4" r="0.5" fill="#b4b4e0"/>
<circle cx="202.8" cy="65.2" r="0.5" fill="#b4b4e0"/>
<circle cx="200.5" cy="83.0" r="0.5" fill="#b4b4e0"/>
<circle cx="201.0" cy="58.9" r="0.5" fill="#b4b4e0"/>
<circle cx="202.3" cy="81.5" r="0.5" fill="#b4b4e0"/>
<circle cx="201.9" cy="60.7" r="0.5" fill="#b4b4e0"/>
<circle cx="201.5" cy="83.5" r="0.5" fill="#b4b4e0"/>
<circle cx="201.5" cy="58.5" r="0.5" fill="#b4b4e0"/>
<circle cx="204.3" cy="63.3" r="0.5" fill="#b4b4e0"/>
<circle cx="201.1" cy="64.3" r="0.5" fill="#b4b4e0"/>
<circle cx="200.2" cy="59.3" r="0.5" fill="#b4b4e0"/>
<circle cx="201.8" cy="92.6" r="0.5" fill="#b4b4e0"/>
<circle cx="201.9" cy="69.9" r="0.5" fill="#b4b4e0"/>
<circle cx="201.6" cy="79.5" r="0.5" fill="#b4b4e0"/>
<circle cx="200.9" cy="69.7" r="0.5" fill="#b4b4e0"/>
<circle cx="199.2" cy="58.9" r="0.5" fill="#b4b4e0"/>
<circle cx="202.4" cy="83.8" r="0.5" fill="#b4b4e0"/>
<circle cx="201.7" cy="89.6" r="0.5" fill="#b4b4e0"/>
<circle cx="198.6" cy="82.6" r="0.5" fill="#b4b4e0"/>
<circle cx="201.9" cy="74.4" r="0.5" fill="#b4b4e0"/>
<circle cx="203.8" cy="68.9" r="0.5" fill="#b4b4e0"/>
<circle cx="198.7" cy="61.4" r="0.5" fill="#b4b4e0"/>
<circle cx="202.6" cy="62.3" r="0.5" fill="#b4b4e0"/>
<circle cx="200.2" cy="78.4" r="0.5" fill="#b4b4e0"/>
<circle cx="202.1" cy="64.9" r="0.6" fill="#393ea0"/>
<circle cx="201.5" cy="87.9" r="0.6" fill="#4646a9"/>
<circle cx="202.5" cy="72.6" r="0.6" fill="#549a6e"/>
<circle cx="201.3" cy="61.3" r="0.6" fill="#4f4fad"/>
<circle cx="201.5" cy="62.4" r="0.6" fill="#4141a4"/>
<circle cx="201.8" cy="61.7" r="0.6" fill="#4949aa"/>
<circle cx="201.9" cy="78.7" r="0.6" fill="#73a946"/>
<circle cx="203.2" cy="75.1" r="0.6" fill="#81ab40"/>
<circle cx="201.4" cy="88.8" r="0.6" fill="#4a4aac"/>
<circle cx="201.1" cy="67.4" r="0.6" fill="#3844a0"/>
<circle cx="201.8" cy="77.5" r="0.6" fill="#99ae36"/>
<circle cx="201.9" cy="78.4" r="0.6" fill="#7caa42"/>
<circle cx="200.6" cy="68.0" r="0.6" fill="#3845a0"/>
<circle cx="201.5" cy="72.7" r="0.6" fill="#559b6b"/>
<circle cx="201.6" cy="61.8" r="0.6" fill="#4949a9"/>
<circle cx="202.4" cy="72.3" r="0.6" fill="#4f9776"/>
<circle cx="202.3" cy="67.6" r="0.6" fill="#3844a0"/>
<circle cx="201.8" cy="63.6" r="0.6" fill="#393ba0"/>
<circle cx="202.0" cy="66.9" r="0.6" fill="#3843a0"/>
<circle cx="201.0" cy="75.5" r="0.6" fill="#88ab3d"/>
<circle cx="201.7" cy="78.9" r="0.6" fill="#6da848"/>
<circle cx="203.1" cy="66.8" r="0.6" fill="#3842a0"/>
<circle cx="200.6" cy="81.4" r="0.6" fill="#449088"/>
<circle cx="200.7" cy="73.0" r="0.6" fill="#5a9e63"/>
<circle cx="201.5" cy="62.2" r="0.6" fill="#4343a6"/>
<circle cx="201.2" cy="72.6" r="0.6" fill="#53996f"/>
<circle cx="201.5" cy="63.4" r="0.6" fill="#393ba0"/>
<circle cx="201.1" cy="83.4" r="0.6" fill="#3a639c"/>
<circle cx="202.2" cy="86.8" r="0.6" fill="#4141a5"/>
<circle cx="201.1" cy="78.0" r="0.6" fill="#88ab3d"/>
<circle cx="203.5" cy="71.3" r="0.6" fill="#3e8c92"/>
<circle cx="201.5" cy="61.3" r="0.6" fill="#4f4fad"/>
<circle cx="201.3" cy="69.4" r="0.6" fill="#38569e"/>
<circle cx="201.5" cy="84.5" r="0.6" fill="#3a479f"/>
<circle cx="201.5" cy="73.5" r="0.6" fill="#62a356"/>
<circle cx="201.1" cy="72.4" r="0.6" fill="#509775"/>
<circle cx="201.6" cy="77.4" r="0.6" fill="#9bae35"/>
<circle cx="201.5" cy="62.9" r="0.6" fill="#3b3ba0"/>
<circle cx="202.2" cy="87.2" r="0.6" fill="#4343a6"/>
<circle cx="201.6" cy="63.0" r="0.6" fill="#3a3aa0"/>
<circle cx="201.2" cy="76.9" r="0.6" fill="#a6af30"/>
<circle cx="200.5" cy="71.8" r="0.6" fill="#479283"/>
<circle cx="201.9" cy="71.9" r="0.6" fill="#499380"/>
<circle cx="201.8" cy="64.2" r="0.6" fill="#393ca0"/>
<circle cx="201.8" cy="84.8" r="0.6" fill="#3a409f"/>
<circle cx="202.6" cy="78.9" r="0.6" fill="#6da848"/>
<circle cx="201.3" cy="61.5" r="0.6" fill="#4d4dac"/>
<circle cx="201.8" cy="79.4" r="0.6" fill="#63a454"/>
<circle cx="200.5" cy="74.8" r="0.6" fill="#7baa42"/>
<circle cx="200.4" cy="70.9" r="0.6" fill="#39869a"/>
<circle cx="201.9" cy="68.4" r="0.6" fill="#3846a0"/>
<circle cx="199.9" cy="75.6" r="0.6" fill="#8bac3b"/>
<circle cx="201.8" cy="83.5" r="0.6" fill="#3a629c"/>
<circle cx="201.9" cy="87.1" r="0.6" fill="#4343a6"/>
<circle cx="201.1" cy="67.3" r="0.6" fill="#3844a0"/>
<circle cx="201.6" cy="74.6" r="0.6" fill="#76a944"/>
<circle cx="202.3" cy="80.0" r="0.6" fill="#5a9e63"/>
<circle cx="200.5" cy="86.7" r="0.6" fill="#4141a5"/>
<circle cx="201.0" cy="63.5" r="0.6" fill="#393ba0"/>
<circle cx="202.0" cy="70.8" r="0.6" fill="#39849a"/>
<circle cx="201.6" cy="72.6" r="0.6" fill="#529970"/>
<circle cx="202.8" cy="62.7" r="0.6" fill="#3d3da2"/>
<circle cx="202.3" cy="88.7" r="0.6" fill="#4a4aab"/>
<circle cx="202.0" cy="79.1" r="0.6" fill="#68a74c"/>
<circle cx="202.0" cy="67.3" r="0.6" fill="#3844a0"/>
<circle cx="201.3" cy="79.7" r="0.6" fill="#5ea05d"/>
<circle cx="200.9" cy="75.6" r="0.6" fill="#8aac3c"/>
<circle cx="200.0" cy="64.0" r="0.6" fill="#393ca0"/>
<circle cx="201.2" cy="82.1" r="0.6" fill="#3a869a"/>
<circle cx="200.5" cy="63.5" r="0.6" fill="#393ba0"/>
<circle cx="201.5" cy="68.1" r="0.6" fill="#3845a0"/>
<circle cx="200.6" cy="86.0" r="0.6" fill="#3e3ea3"/>
<circle cx="201.9" cy="72.2" r="0.6" fill="#4d957a"/>
<circle cx="201.8" cy="88.9" r="0.6" fill="#4a4aac"/>
<circle cx="200.7" cy="64.9" r="0.6" fill="#393ea0"/>
<circle cx="202.5" cy="73.2" r="0.6" fill="#5da05e"/>
<circle cx="201.8" cy="85.7" r="0.6" fill="#3c3ca2"/>
<circle cx="200.8" cy="65.9" r="0.6" fill="#3940a0"/>
<circle cx="201.6" cy="72.2" r="0.6" fill="#4d9679"/>
<circle cx="202.6" cy="80.8" r="0.6" fill="#4c957a"/>
<circle cx="201.2" cy="74.1" r="0.6" fill="#6ca848"/>
<circle cx="201.1" cy="87.9" r="0.6" fill="#4646a9"/>
<circle cx="202.6" cy="79.4" r="0.6" fill="#64a453"/>
<circle cx="201.9" cy="82.3" r="0.6" fill="#3a829a"/>
<circle cx="201.2" cy="78.3" r="0.6" fill="#7faa41"/>
<circle cx="200.7" cy="72.2" r="0.6" fill="#4c957b"/>
<circle cx="200.0" cy="78.7" r="0.6" fill="#73a946"/>
<circle cx="200.6" cy="61.1" r="0.6" fill="#5151ae"/>
<circle cx="201.8" cy="85.7" r="0.6" fill="#3d3da2"/>
<circle cx="201.7" cy="79.1" r="0.6" fill="#67a64d"/>
<circle cx="201.5" cy="87.4" r="0.6" fill="#4444a7"/>
<circle cx="200.4" cy="81.4" r="0.6" fill="#449089"/>
<circle cx="200.7" cy="85.7" r="0.6" fill="#3d3da2"/>
<circle cx="202.1" cy="63.6" r="0.6" fill="#393ba0"/>
<circle cx="200.5" cy="66.4" r="0.6" fill="#3841a0"/>
<circle cx="201.2" cy="81.8" r="0.6" fill="#3d8c94"/>
<circle cx="201.4" cy="83.5" r="0.6" fill="#3a629c"/>
<circle cx="201.0" cy="64.7" r="0.6" fill="#393da0"/>
<circle cx="201.1" cy="68.0" r="0.6" fill="#3845a0"/>
<circle cx="201.1" cy="76.8" r="0.6" fill="#a3af32"/>
<circle cx="201.7" cy="88.1" r="0.6" fill="#4747a9"/>
<circle cx="202.4" cy="62.9" r="0.6" fill="#3b3ba1"/>
<circle cx="201.6" cy="84.4" r="0.6" fill="#3a499e"/>
<circle cx="201.6" cy="79.4" r="0.6" fill="#64a453"/>
<circle cx="200.8" cy="79.8" r="0.6" fill="#5c9f60"/>
<circle cx="201.5" cy="70.2" r="0.6" fill="#39719c"/>
<circle cx="202.4" cy="61.6" r="0.6" fill="#4c4cab"/>
<circle cx="201.6" cy="63.1" r="0.6" fill="#393aa0"/>
<circle cx="201.2" cy="82.0" r="0.6" fill="#3a8a98"/>
<circle cx="200.8" cy="82.9" r="0.6" fill="#3a719b"/>
<circle cx="202.2" cy="83.0" r="0.6" fill="#3a6f9c"/>
<circle cx="201.9" cy="85.2" r="0.6" fill="#3a3aa0"/>
<circle cx="201.9" cy="71.6" r="0.6" fill="#438f8a"/>
<circle cx="201.6" cy="73.9" r="0.6" fill="#68a74c"/>
<circle cx="201.7" cy="76.5" r="0.6" fill="#9eae34"/>
<circle cx="201.0" cy="88.1" r="0.6" fill="#4747a9"/>
<circle cx="202.2" cy="71.6" r="0.6" fill="#438f8a"/>
<circle cx="202.0" cy="73.3" r="0.6" fill="#5ea05d"/>
<circle cx="201.2" cy="79.1" r="0.6" fill="#68a64c"/>
<circle cx="200.1" cy="74.4" r="0.6" fill="#73a946"/>
<circle cx="201.2" cy="63.0" r="0.6" fill="#3a3aa0"/>
<circle cx="201.3" cy="84.0" r="0.6" fill="#3a539e"/>
<circle cx="202.5" cy="83.2" r="0.6" fill="#3a689c"/>
<circle cx="200.6" cy="79.2" r="0.6" fill="#66a550"/>
<circle cx="202.4" cy="63.4" r="0.6" fill="#393aa0"/>
<circle cx="201.0" cy="78.7" r="0.6" fill="#74a945"/>
<circle cx="202.1" cy="84.8" r="0.6" fill="#3a3f9f"/>
<circle cx="201.2" cy="83.3" r="0.6" fill="#3a679c"/>
<circle cx="201.2" cy="67.4" r="0.6" fill="#3844a0"/>
<circle cx="201.7" cy="73.7" r="0.6" fill="#65a551"/>
<circle cx="202.1" cy="87.8" r="0.6" fill="#4646a8"/>
<circle cx="201.9" cy="64.0" r="0.6" fill="#393ca0"/>
<circle cx="201.0" cy="71.1" r="0.6" fill="#3b8a97"/>
<circle cx="202.3" cy="69.8" r="0.6" fill="#38619d"/>
<circle cx="202.0" cy="65.5" r="0.6" fill="#393fa0"/>
<circle cx="201.2" cy="73.3" r="0.6" fill="#5ea05d"/>
<circle cx="203.0" cy="86.8" r="0.6" fill="#4141a5"/>
<circle cx="200.6" cy="73.3" r="0.6" fill="#5ea05d"/>
<circle cx="200.4" cy="70.0" r="0.6" fill="#38689d"/>
<circle cx="201.6" cy="63.6" r="0.6" fill="#393ba0"/>
<circle cx="202.0" cy="79.9" r="0.6" fill="#5b9e62"/>
<circle cx="200.9" cy="71.3" r="0.6" fill="#3f8d90"/>
<circle cx="202.6" cy="67.4" r="0.6" fill="#3844a0"/>
<circle cx="201.1" cy="83.6" r="0.6" fill="#3a5f9d"/>
<circle cx="201.1" cy="84.0" r="0.6" fill="#3a549e"/>
<circle cx="202.7" cy="70.5" r="0.6" fill="#39779b"/>
<circle cx="200.5" cy="75.0" r="0.6" fill="#7eaa41"/>
<circle cx="202.7" cy="80.3" r="0.6" fill="#559b6b"/>
<circle cx="201.2" cy="82.0" r="0.6" fill="#3a8a99"/>
<circle cx="202.6" cy="85.3" r="0.6" fill="#3b3ba1"/>
<circle cx="201.2" cy="88.4" r="0.6" fill="#4949aa"/>
<circle cx="200.9" cy="69.0" r="0.6" fill="#38489f"/>
<circle cx="200.9" cy="71.2" r="0.6" fill="#3c8b95"/>
<circle cx="202.4" cy="71.9" r="0.6" fill="#499380"/>
<circle cx="203.1" cy="70.8" r="0.6" fill="#39829a"/>
<circle cx="201.9" cy="74.2" r="0.6" fill="#6ea847"/>
<circle cx="201.3" cy="87.9" r="0.6" fill="#4646a9"/>
<circle cx="202.2" cy="64.4" r="0.6" fill="#393da0"/>
<circle cx="201.7" cy="70.9" r="0.6" fill="#39879a"/>
<circle cx="202.5" cy="86.7" r="0.6" fill="#4141a5"/>
<circle cx="200.8" cy="73.1" r="0.6" fill="#5b9f61"/>
<circle cx="201.7" cy="76.1" r="0.6" fill="#95ad37"/>
<circle cx="202.9" cy="71.8" r="0.6" fill="#469184"/>
<circle cx="201.3" cy="68.8" r="0.6" fill="#3847a0"/>
<circle cx="201.3" cy="69.7" r="0.6" fill="#385f9d"/>
<circle cx="201.9" cy="86.9" r="0.6" fill="#4242a6"/>
<circle cx="201.8" cy="66.6" r="0.6" fill="#3842a0"/>
<circle cx="201.1" cy="67.9" r="0.6" fill="#3845a0"/>
<circle cx="201.8" cy="70.5" r="0.6" fill="#39789b"/>
<circle cx="201.7" cy="67.8" r="0.6" fill="#3845a0"/>
<circle cx="202.5" cy="70.3" r="0.6" fill="#39729c"/>
<circle cx="201.6" cy="71.3" r="0.6" fill="#3f8d91"/>
<circle cx="201.4" cy="64.9" r="0.6" fill="#393ea0"/>
<circle cx="200.5" cy="84.8" r="0.6" fill="#3a3f9f"/>
<circle cx="202.1" cy="64.5" r="0.6" fill="#393da0"/>
<circle cx="201.9" cy="75.5" r="0.6" fill="#89ac3c"/>
<circle cx="201.1" cy="82.5" r="0.6" fill="#3a7d9a"/>
<circle cx="199.8" cy="78.0" r="0.6" fill="#88ab3d"/>
<circle cx="203.0" cy="71.9" r="0.6" fill="#479282"/>
<circle cx="201.2" cy="74.2" r="0.6" fill="#6da848"/>
<circle cx="201.2" cy="84.4" r="0.6" fill="#3a499e"/>
<circle cx="200.9" cy="77.7" r="0.6" fill="#93ad38"/>
<circle cx="201.2" cy="88.6" r="0.6" fill="#4949ab"/>
<circle cx="202.0" cy="88.7" r="0.6" fill="#4a4aab"/>
<circle cx="201.0" cy="72.4" r="0.6" fill="#509874"/>
<circle cx="201.9" cy="75.6" r="0.6" fill="#8bac3c"/>
<circle cx="201.7" cy="88.9" r="0.6" fill="#4b4bac"/>
<circle cx="202.5" cy="64.4" r="0.6" fill="#393da0"/>
<circle cx="201.2" cy="86.6" r="0.6" fill="#4141a5"/>
<circle cx="201.2" cy="63.0" r="0.6" fill="#3a3aa0"/>
<circle cx="202.7" cy="61.0" r="0.6" fill="#5252af"/>
<circle cx="201.4" cy="63.8" r="0.6" fill="#393ba0"/>
<circle cx="201.9" cy="64.9" r="0.6" fill="#393ea0"/>
<circle cx="203.1" cy="79.7" r="0.6" fill="#5fa15c"/>
<circle cx="202.6" cy="79.1" r="0.6" fill="#68a64c"/>
<circle cx="202.0" cy="62.2" r="0.6" fill="#4444a6"/>
<circle cx="201.3" cy="74.4" r="0.6" fill="#71a946"/>
<circle cx="202.1" cy="76.6" r="0.6" fill="#9eae33"/>
<circle cx="202.2" cy="62.5" r="0.6" fill="#4040a3"/>
<circle cx="202.7" cy="66.4" r="0.6" fill="#3842a0"/>
<circle cx="201.0" cy="75.5" r="0.6" fill="#89ac3c"/>
<circle cx="201.9" cy="80.0" r="0.6" fill="#599d65"/>
<circle cx="201.3" cy="74.7" r="0.6" fill="#77a944"/>
<circle cx="201.8" cy="64.5" r="0.6" fill="#393da0"/>
<circle cx="201.8" cy="66.8" r="0.6" fill="#3842a0"/>
<circle cx="201.7" cy="62.3" r="0.6" fill="#4242a5"/>
<circle cx="202.2" cy="78.4" r="0.6" fill="#7daa41"/>
<circle cx="202.5" cy="85.0" r="0.6" fill="#3a3aa0"/>
<circle cx="201.0" cy="75.1" r="0.6" fill="#80aa40"/>
<circle cx="201.8" cy="86.7" r="0.6" fill="#4141a5"/>
<circle cx="201.9" cy="83.9" r="0.6" fill="#3a589d"/>
<circle cx="201.8" cy="78.5" r="0.6" fill="#79aa43"/>
<circle cx="202.2" cy="69.2" r="0.6" fill="#384e9f"/>
<circle cx="201.0" cy="73.0" r="0.6" fill="#599d65"/>
<circle cx="201.9" cy="83.3" r="0.6" fill="#3a679c"/>
<circle cx="200.9" cy="83.7" r="0.6" fill="#3a5d9d"/>
<circle cx="201.3" cy="68.8" r="0.6" fill="#3847a0"/>
<circle cx="202.1" cy="82.4" r="0.6" fill="#3a7f9a"/>
<circle cx="201.6" cy="80.6" r="0.6" fill="#4f9775"/>
<circle cx="201.5" cy="80.5" r="0.6" fill="#519872"/>
<circle cx="201.5" cy="76.4" r="0.6" fill="#9aae35"/>
<circle cx="201.9" cy="66.5" r="0.6" fill="#3842a0"/>
<circle cx="202.4" cy="79.0" r="0.6" fill="#6aa849"/>
<circle cx="201.5" cy="78.4" r="0.6" fill="#7baa42"/>
<circle cx="200.5" cy="74.2" r="0.6" fill="#6ea848"/>
<circle cx="201.8" cy="62.1" r="0.6" fill="#4444a6"/>
<circle cx="200.3" cy="84.4" r="0.6" fill="#3a4b9e"/>
<circle cx="202.0" cy="77.7" r="0.6" fill="#93ad38"/>
<circle cx="201.7" cy="63.9" r="0.6" fill="#393ba0"/>
<circle cx="201.2" cy="78.7" r="0.6" fill="#72a946"/>
<circle cx="201.5" cy="87.8" r="0.6" fill="#4646a8"/>
<circle cx="202.2" cy="88.4" r="0.6" fill="#4848aa"/>
<circle cx="201.2" cy="69.0" r="0.6" fill="#38489f"/>
<circle cx="202.1" cy="66.7" r="0.6" fill="#3842a0"/>
<circle cx="200.7" cy="68.6" r="0.6" fill="#3847a0"/>
<circle cx="201.0" cy="86.2" r="0.6" fill="#3f3fa3"/>
<circle cx="201.3" cy="72.5" r="0.6" fill="#529971"/>
<circle cx="200.6" cy="81.1" r="0.6" fill="#489282"/>
<circle cx="201.9" cy="64.2" r="0.6" fill="#393ca0"/>
<circle cx="201.4" cy="80.6" r="0.6" fill="#509774"/>
<circle cx="203.1" cy="66.8" r="0.6" fill="#3842a0"/>
<circle cx="200.9" cy="70.2" r="0.6" fill="#396f9c"/>
<circle cx="201.4" cy="75.6" r="0.6" fill="#8bac3b"/>
<circle cx="202.0" cy="86.9" r="0.6" fill="#4242a5"/>
<circle cx="202.7" cy="80.4" r="0.6" fill="#549a6e"/>
<circle cx="200.9" cy="83.0" r="0.6" fill="#3a709b"/>
<circle cx="201.8" cy="70.6" r="0.6" fill="#397b9b"/>
<circle cx="201.6" cy="74.1" r="0.6" fill="#6da848"/>
<circle cx="202.0" cy="74.2" r="0.6" fill="#6ea848"/>
<circle cx="200.7" cy="66.2" r="0.6" fill="#3841a0"/>
<circle cx="201.8" cy="69.5" r="0.6" fill="#38599e"/>
<circle cx="200.5" cy="65.6" r="0.6" fill="#3940a0"/>
<circle cx="200.8" cy="67.1" r="0.6" fill="#3843a0"/>
<circle cx="200.8" cy="78.2" r="0.6" fill="#83ab3f"/>
<circle cx="200.4" cy="80.0" r="0.6" fill="#599d65"/>
<circle cx="201.9" cy="69.5" r="0.6" fill="#38579e"/>
<circle cx="202.8" cy="69.2" r="0.6" fill="#384f9f"/>
<circle cx="201.9" cy="61.2" r="0.6" fill="#5151ae"/>
<circle cx="201.3" cy="69.6" r="0.6" fill="#385c9e"/>
<circle cx="201.6" cy="69.8" r="0.6" fill="#38629d"/>
<circle cx="202.7" cy="70.5" r="0.6" fill="#39789b"/>
<circle cx="200.5" cy="73.2" r="0.6" fill="#5da05e"/>
<circle cx="202.2" cy="61.3" r="0.6" fill="#4f4fad"/>
<circle cx="201.9" cy="77.2" r="0.6" fill="#a3af31"/>
<circle cx="201.9" cy="77.9" r="0.6" fill="#8bac3b"/>
<circle cx="202.4" cy="71.4" r="0.6" fill="#408d8f"/>
<circle cx="202.0" cy="86.6" r="0.6" fill="#4040a5"/>
<circle cx="200.4" cy="79.0" r="0.6" fill="#6aa849"/>
<circle cx="201.6" cy="86.6" r="0.6" fill="#4141a5"/>
<circle cx="201.1" cy="65.1" r="0.6" fill="#393ea0"/>
<circle cx="203.3" cy="86.9" r="0.6" fill="#4242a6"/>
<circle cx="201.2" cy="66.5" r="0.6" fill="#3842a0"/>
<circle cx="200.3" cy="77.5" r="0.6" fill="#99ae36"/>
<circle cx="201.1" cy="80.6" r="0.6" fill="#509774"/>
<circle cx="201.5" cy="66.8" r="0.6" fill="#3842a0"/>
<circle cx="201.4" cy="62.5" r="0.6" fill="#3f3fa3"/>
<circle cx="201.3" cy="78.3" r="0.6" fill="#7eaa41"/>
<circle cx="199.9" cy="71.8" r="0.6" fill="#479283"/>
<circle cx="202.3" cy="71.8" r="0.6" fill="#479283"/>
<circle cx="201.3" cy="74.2" r="0.6" fill="#6da848"/>
<circle cx="201.9" cy="67.1" r="0.6" fill="#3843a0"/>
<circle cx="201.7" cy="75.8" r="0.6" fill="#8fac3a"/>
<circle cx="201.3" cy="87.5" r="0.6" fill="#4444a7"/>
<circle cx="202.6" cy="79.8" r="0.6" fill="#5c9f5f"/>
<circle cx="202.0" cy="72.1" r="0.6" fill="#4b957c"/>
<circle cx="202.3" cy="75.3" r="0.6" fill="#85ab3e"/>
<circle cx="202.1" cy="75.5" r="0.6" fill="#88ab3d"/>
<circle cx="200.7" cy="82.9" r="0.6" fill="#3a729b"/>
<circle cx="201.1" cy="81.5" r="0.6" fill="#418e8d"/>
<circle cx="202.4" cy="67.0" r="0.6" fill="#3843a0"/>
<circle cx="201.7" cy="64.4" r="0.6" fill="#393da0"/>
<circle cx="201.2" cy="64.8" r="0.6" fill="#393ea0"/>
<circle cx="202.4" cy="78.2" r="0.6" fill="#83ab3f"/>
<circle cx="201.9" cy="79.0" r="0.6" fill="#69a74a"/>
<circle cx="201.5" cy="76.5" r="0.6" fill="#9eae34"/>
<circle cx="201.2" cy="63.2" r="0.6" fill="#393aa0"/>
<circle cx="201.0" cy="64.8" r="0.6" fill="#393ea0"/>
<circle cx="201.2" cy="69.6" r="0.6" fill="#385a9e"/>
<circle cx="200.9" cy="87.4" r="0.6" fill="#4444a7"/>
<circle cx="200.8" cy="70.8" r="0.6" fill="#39839a"/>
<circle cx="202.9" cy="77.9" r="0.6" fill="#8cac3b"/>
<circle cx="201.7" cy="63.8" r="0.6" fill="#393ba0"/>
<circle cx="201.0" cy="87.5" r="0.6" fill="#4545a8"/>
<circle cx="202.1" cy="78.7" r="0.6" fill="#72a946"/>
<circle cx="200.2" cy="75.2" r="0.6" fill="#82ab3f"/>
<circle cx="202.2" cy="88.1" r="0.6" fill="#4747a9"/>
<circle cx="201.7" cy="84.4" r="0.6" fill="#3a499e"/>
<circle cx="200.4" cy="61.0" r="0.6" fill="#5252af"/>
<circle cx="199.3" cy="81.0" r="0.6" fill="#4a947e"/>
<circle cx="202.4" cy="85.1" r="0.6" fill="#3a3aa0"/>
<circle cx="202.0" cy="78.0" r="0.6" fill="#89ac3c"/>
<circle cx="200.5" cy="73.1" r="0.6" fill="#5b9e62"/>
<circle cx="202.2" cy="65.4" r="0.6" fill="#393fa0"/>
<circle cx="200.1" cy="62.1" r="0.6" fill="#4545a7"/>
<circle cx="200.6" cy="84.1" r="0.6" fill="#3a519e"/>
<circle cx="201.2" cy="79.8" r="0.6" fill="#5da05e"/>
<circle cx="203.0" cy="61.9" r="0.6" fill="#4747a8"/>
<circle cx="201.9" cy="67.8" r="0.6" fill="#3845a0"/>
<circle cx="200.2" cy="72.2" r="0.6" fill="#4c957b"/>
<circle cx="202.3" cy="86.4" r="0.6" fill="#4040a4"/>
<circle cx="202.2" cy="62.7" r="0.6" fill="#3d3da2"/>
<circle cx="201.6" cy="67.4" r="0.6" fill="#3844a0"/>
<circle cx="201.7" cy="72.2" r="0.6" fill="#4d9679"/>
<circle cx="201.4" cy="74.9" r="0.6" fill="#7caa42"/>
<circle cx="202.6" cy="62.3" r="0.6" fill="#4343a5"/>
<circle cx="200.9" cy="75.4" r="0.6" fill="#86ab3d"/>
<circle cx="201.5" cy="86.6" r="0.6" fill="#4141a5"/>
<circle cx="200.9" cy="64.4" r="0.6" fill="#393da0"/>
<circle cx="201.9" cy="71.3" r="0.6" fill="#3f8d91"/>
<circle cx="200.9" cy="88.3" r="0.6" fill="#4848aa"/>
<rect x="192.70000000000002" y="69.5" width="20.599999999999987" height="61.30000000000001" fill="none" stroke="#111" stroke-width="1.3"/>
<line x1="181.6" y1="31.3" x2="184.6" y2="31.3" stroke="#111" stroke-width="1.0"/>
<text x="175.1" y="34.1" font-size="7.6" text-anchor="end" textLength="7.1" lengthAdjust="spacingAndGlyphs" fill="#333">10</text>
<text x="175.2" y="30.7" font-size="5.0" textLength="2.9" lengthAdjust="spacingAndGlyphs" fill="#333">5</text>
<line x1="181.6" y1="57.5" x2="184.6" y2="57.5" stroke="#111" stroke-width="1.0"/>
<text x="175.1" y="60.3" font-size="7.6" text-anchor="end" textLength="7.1" lengthAdjust="spacingAndGlyphs" fill="#333">10</text>
<text x="175.2" y="56.9" font-size="5.0" textLength="2.9" lengthAdjust="spacingAndGlyphs" fill="#333">4</text>
<line x1="181.6" y1="88.0" x2="184.6" y2="88.0" stroke="#111" stroke-width="1.0"/>
<text x="175.1" y="90.8" font-size="7.6" text-anchor="end" textLength="7.1" lengthAdjust="spacingAndGlyphs" fill="#333">10</text>
<text x="175.2" y="87.4" font-size="5.0" textLength="2.9" lengthAdjust="spacingAndGlyphs" fill="#333">3</text>
<line x1="181.6" y1="105.0" x2="184.6" y2="105.0" stroke="#111" stroke-width="1.0"/>
<text x="175.4" y="107.7" font-size="7.6" text-anchor="end" fill="#333">0</text>
<line x1="181.6" y1="123.3" x2="184.6" y2="123.3" stroke="#111" stroke-width="1.0"/>
<text x="175.1" y="126.1" font-size="7.6" text-anchor="end" textLength="11.2" lengthAdjust="spacingAndGlyphs" fill="#333">−10</text>
<text x="175.2" y="122.7" font-size="5.0" textLength="2.9" lengthAdjust="spacingAndGlyphs" fill="#333">3</text>
<line x1="183.0" y1="49.61301411360369" x2="184.6" y2="49.61301411360369" stroke="#111" stroke-width="0.7"/>
<line x1="183.0" y1="44.999423126344844" x2="184.6" y2="44.999423126344844" stroke="#111" stroke-width="0.7"/>
<line x1="183.0" y1="41.72602822720739" x2="184.6" y2="41.72602822720739" stroke="#111" stroke-width="0.7"/>
<line x1="183.0" y1="39.18698588639631" x2="184.6" y2="39.18698588639631" stroke="#111" stroke-width="0.7"/>
<line x1="183.0" y1="37.112437239948534" x2="184.6" y2="37.112437239948534" stroke="#111" stroke-width="0.7"/>
<line x1="183.0" y1="35.35843135162647" x2="184.6" y2="35.35843135162647" stroke="#111" stroke-width="0.7"/>
<line x1="183.0" y1="33.839042340811076" x2="184.6" y2="33.839042340811076" stroke="#111" stroke-width="0.7"/>
<line x1="183.0" y1="32.49884625268969" x2="184.6" y2="32.49884625268969" stroke="#111" stroke-width="0.7"/>
<line x1="183.0" y1="78.81858513224857" x2="184.6" y2="78.81858513224857" stroke="#111" stroke-width="0.7"/>
<line x1="183.0" y1="73.44780173105029" x2="184.6" y2="73.44780173105029" stroke="#111" stroke-width="0.7"/>
<line x1="183.0" y1="69.63717026449714" x2="184.6" y2="69.63717026449714" stroke="#111" stroke-width="0.7"/>
<line x1="183.0" y1="66.68141486775143" x2="184.6" y2="66.68141486775143" stroke="#111" stroke-width="0.7"/>
<line x1="183.0" y1="64.26638686329886" x2="184.6" y2="64.26638686329886" stroke="#111" stroke-width="0.7"/>
<line x1="183.0" y1="62.22450977956517" x2="184.6" y2="62.22450977956517" stroke="#111" stroke-width="0.7"/>
<line x1="183.0" y1="60.45575539674572" x2="184.6" y2="60.45575539674572" stroke="#111" stroke-width="0.7"/>
<line x1="183.0" y1="58.895603462100595" x2="184.6" y2="58.895603462100595" stroke="#111" stroke-width="0.7"/>
<line x1="183.0" y1="104.32" x2="184.6" y2="104.32" stroke="#111" stroke-width="0.7"/>
<line x1="183.0" y1="105.732" x2="184.6" y2="105.732" stroke="#111" stroke-width="0.7"/>
<line x1="183.0" y1="103.47" x2="184.6" y2="103.47" stroke="#111" stroke-width="0.7"/>
<line x1="183.0" y1="106.647" x2="184.6" y2="106.647" stroke="#111" stroke-width="0.7"/>
<line x1="183.0" y1="102.45" x2="184.6" y2="102.45" stroke="#111" stroke-width="0.7"/>
<line x1="183.0" y1="107.745" x2="184.6" y2="107.745" stroke="#111" stroke-width="0.7"/>
<line x1="183.0" y1="100.75" x2="184.6" y2="100.75" stroke="#111" stroke-width="0.7"/>
<line x1="183.0" y1="109.575" x2="184.6" y2="109.575" stroke="#111" stroke-width="0.7"/>
<line x1="183.0" y1="97.35" x2="184.6" y2="97.35" stroke="#111" stroke-width="0.7"/>
<line x1="183.0" y1="113.235" x2="184.6" y2="113.235" stroke="#111" stroke-width="0.7"/>
<line x1="183.0" y1="94.8" x2="184.6" y2="94.8" stroke="#111" stroke-width="0.7"/>
<line x1="183.0" y1="115.98" x2="184.6" y2="115.98" stroke="#111" stroke-width="0.7"/>
<line x1="183.0" y1="92.76" x2="184.6" y2="92.76" stroke="#111" stroke-width="0.7"/>
<line x1="183.0" y1="118.176" x2="184.6" y2="118.176" stroke="#111" stroke-width="0.7"/>
<line x1="183.0" y1="91.06" x2="184.6" y2="91.06" stroke="#111" stroke-width="0.7"/>
<line x1="183.0" y1="120.006" x2="184.6" y2="120.006" stroke="#111" stroke-width="0.7"/>
<line x1="183.0" y1="89.7" x2="184.6" y2="89.7" stroke="#111" stroke-width="0.7"/>
<line x1="183.0" y1="121.47" x2="184.6" y2="121.47" stroke="#111" stroke-width="0.7"/>
<line x1="183.0" y1="88.68" x2="184.6" y2="88.68" stroke="#111" stroke-width="0.7"/>
<line x1="183.0" y1="122.568" x2="184.6" y2="122.568" stroke="#111" stroke-width="0.7"/>
<line x1="184.6" y1="130.8" x2="184.6" y2="133.8" stroke="#111" stroke-width="1.0"/>
<line x1="188.79999999999998" y1="130.8" x2="188.79999999999998" y2="132.5" stroke="#111" stroke-width="0.7"/>
<line x1="193.0" y1="130.8" x2="193.0" y2="132.5" stroke="#111" stroke-width="0.7"/>
<line x1="197.2" y1="130.8" x2="197.2" y2="132.5" stroke="#111" stroke-width="0.7"/>
<line x1="201.4" y1="130.8" x2="201.4" y2="132.5" stroke="#111" stroke-width="0.7"/>
<line x1="205.6" y1="130.8" x2="205.6" y2="133.8" stroke="#111" stroke-width="1.0"/>
<line x1="209.79999999999998" y1="130.8" x2="209.79999999999998" y2="132.5" stroke="#111" stroke-width="0.7"/>
<line x1="214.0" y1="130.8" x2="214.0" y2="132.5" stroke="#111" stroke-width="0.7"/>
<line x1="218.2" y1="130.8" x2="218.2" y2="132.5" stroke="#111" stroke-width="0.7"/>
<line x1="222.39999999999998" y1="130.8" x2="222.39999999999998" y2="132.5" stroke="#111" stroke-width="0.7"/>
<line x1="226.6" y1="130.8" x2="226.6" y2="133.8" stroke="#111" stroke-width="1.0"/>
<line x1="230.8" y1="130.8" x2="230.8" y2="132.5" stroke="#111" stroke-width="0.7"/>
<line x1="235.0" y1="130.8" x2="235.0" y2="132.5" stroke="#111" stroke-width="0.7"/>
<line x1="239.2" y1="130.8" x2="239.2" y2="132.5" stroke="#111" stroke-width="0.7"/>
<line x1="243.39999999999998" y1="130.8" x2="243.39999999999998" y2="132.5" stroke="#111" stroke-width="0.7"/>
<line x1="247.6" y1="130.8" x2="247.6" y2="133.8" stroke="#111" stroke-width="1.0"/>
<line x1="251.8" y1="130.8" x2="251.8" y2="132.5" stroke="#111" stroke-width="0.7"/>
<line x1="256.0" y1="130.8" x2="256.0" y2="132.5" stroke="#111" stroke-width="0.7"/>
<line x1="260.2" y1="130.8" x2="260.2" y2="132.5" stroke="#111" stroke-width="0.7"/>
<line x1="264.4" y1="130.8" x2="264.4" y2="132.5" stroke="#111" stroke-width="0.7"/>
<line x1="268.6" y1="130.8" x2="268.6" y2="133.8" stroke="#111" stroke-width="1.0"/>
<line x1="272.8" y1="130.8" x2="272.8" y2="132.5" stroke="#111" stroke-width="0.7"/>
<line x1="277.0" y1="130.8" x2="277.0" y2="132.5" stroke="#111" stroke-width="0.7"/>
<line x1="281.2" y1="130.8" x2="281.2" y2="132.5" stroke="#111" stroke-width="0.7"/>
<line x1="285.4" y1="130.8" x2="285.4" y2="132.5" stroke="#111" stroke-width="0.7"/>
<line x1="289.6" y1="130.8" x2="289.6" y2="133.8" stroke="#111" stroke-width="1.0"/>
<line x1="293.8" y1="130.8" x2="293.8" y2="132.5" stroke="#111" stroke-width="0.7"/>
<text x="184.6" y="142.6" font-size="6.9" text-anchor="middle" textLength="3.6" lengthAdjust="spacingAndGlyphs" fill="#333">0</text>
<text x="205.6" y="142.6" font-size="6.9" text-anchor="middle" textLength="12.6" lengthAdjust="spacingAndGlyphs" fill="#333">50K</text>
<text x="226.6" y="142.6" font-size="6.9" text-anchor="middle" textLength="15.6" lengthAdjust="spacingAndGlyphs" fill="#333">100K</text>
<text x="247.6" y="142.6" font-size="6.9" text-anchor="middle" textLength="15.6" lengthAdjust="spacingAndGlyphs" fill="#333">150K</text>
<text x="268.6" y="142.6" font-size="6.9" text-anchor="middle" textLength="15.6" lengthAdjust="spacingAndGlyphs" fill="#333">200K</text>
<text x="289.6" y="142.6" font-size="6.9" text-anchor="middle" textLength="15.6" lengthAdjust="spacingAndGlyphs" fill="#333">250K</text>
<rect x="185.8" y="17.4" width="78.80000000000001" height="4" fill="#fff" stroke="none" stroke-width="1"/>
<text x="188.3" y="20.5" font-size="10.2" font-style="italic" textLength="25.2" lengthAdjust="spacingAndGlyphs" fill="#222">STAT1</text>
<text x="213.5" y="16.3" font-size="6.4" font-style="italic" textLength="10.8" lengthAdjust="spacingAndGlyphs" fill="#222">−/−</text>
<text x="228.3" y="20.5" font-size="10.2" font-style="italic" textLength="35.3" lengthAdjust="spacingAndGlyphs" fill="#222">E-SLAM</text>
<text x="203.5" y="34.4" font-size="8.4" text-anchor="middle" textLength="9.0" lengthAdjust="spacingAndGlyphs" fill="#333">G1</text>
<text x="203.5" y="43.5" font-size="8.4" text-anchor="middle" textLength="15.0" lengthAdjust="spacingAndGlyphs" fill="#333">8.06</text>
<text x="254.7" y="34.4" font-size="8.2" text-anchor="middle" fill="#333">S-G<tspan font-size="5.4" dy="1.8">2</tspan><tspan dy="-1.8">-M</tspan></text>
<text x="254.7" y="43.5" font-size="8.4" text-anchor="middle" textLength="13.8" lengthAdjust="spacingAndGlyphs" fill="#333">0.73</text>
<text x="203.5" y="105.5" font-size="8.4" text-anchor="middle" textLength="10.0" lengthAdjust="spacingAndGlyphs" fill="#333">G0</text>
<text x="203.5" y="114.5" font-size="8.4" text-anchor="middle" textLength="15.0" lengthAdjust="spacingAndGlyphs" fill="#333">90.5</text>
<line x1="15" y1="26" x2="15" y2="124.9" stroke="#808080" stroke-width="1.7"/>
<polygon points="15.00,22.60 12.90,27.00 17.10,27.00" fill="#333" fill-opacity="1.0" stroke="none" stroke-width="1"/>
<text transform="translate(12.1,74) rotate(-90)" font-size="9.6" font-style="italic" text-anchor="middle" fill="#333">Ki67</text>
<line x1="38.3" y1="148.6" x2="282" y2="148.6" stroke="#222" stroke-width="1.3"/>
<polygon points="286.00,148.60 280.50,146.30 280.50,150.90" fill="#222" fill-opacity="1.0" stroke="none" stroke-width="1"/>
<text x="151.3" y="158.8" font-size="9.6" font-style="italic" fill="#333">DAPI</text>
<rect x="400.0" y="25.929400000000015" width="28.69999999999999" height="103.47059999999999" fill="#1b5e9d" stroke="none" stroke-width="1"/>
<rect x="400.0" y="37.912400000000005" width="28.69999999999999" height="91.4876" fill="#cc0f2f" stroke="none" stroke-width="1"/>
<line x1="414.2" y1="22.8" x2="414.2" y2="26.429400000000015" stroke="#222" stroke-width="1.0"/>
<line x1="406.3" y1="22.8" x2="422.09999999999997" y2="22.8" stroke="#222" stroke-width="1.1"/>
<line x1="406.3" y1="26.529400000000017" x2="422.09999999999997" y2="26.529400000000017" stroke="#1a2a3a" stroke-width="1.0"/>
<line x1="414.2" y1="34.3" x2="414.2" y2="38.7124" stroke="#222" stroke-width="1.0"/>
<line x1="406.3" y1="34.3" x2="422.09999999999997" y2="34.3" stroke="#222" stroke-width="1.1"/>
<rect x="443.5" y="25.721000000000004" width="28.69999999999999" height="103.679" fill="#3fae49" stroke="none" stroke-width="1"/>
<rect x="443.5" y="26.658800000000014" width="28.69999999999999" height="102.74119999999999" fill="#1b5e9d" stroke="none" stroke-width="1"/>
<rect x="443.5" y="37.912400000000005" width="28.69999999999999" height="91.4876" fill="#cc0f2f" stroke="none" stroke-width="1"/>
<line x1="457.7" y1="21.9" x2="457.7" y2="27.158800000000014" stroke="#222" stroke-width="1.0"/>
<line x1="449.8" y1="21.9" x2="465.59999999999997" y2="21.9" stroke="#222" stroke-width="1.1"/>
<line x1="449.8" y1="27.258800000000015" x2="465.59999999999997" y2="27.258800000000015" stroke="#1a2a3a" stroke-width="1.0"/>
<line x1="457.7" y1="31.8" x2="457.7" y2="38.7124" stroke="#222" stroke-width="1.0"/>
<line x1="449.8" y1="31.8" x2="465.59999999999997" y2="31.8" stroke="#222" stroke-width="1.1"/>
<line x1="385.5" y1="21.5" x2="385.5" y2="129.4" stroke="#222" stroke-width="1.2"/>
<line x1="385.5" y1="129.4" x2="484.5" y2="129.4" stroke="#222" stroke-width="1.2"/>
<line x1="382.2" y1="25.200000000000003" x2="385.5" y2="25.200000000000003" stroke="#222" stroke-width="1.0"/>
<text x="379.0" y="28.1" font-size="8.4" text-anchor="end" textLength="13.049999999999999" lengthAdjust="spacingAndGlyphs" fill="#333">100</text>
<line x1="382.2" y1="77.30000000000001" x2="385.5" y2="77.30000000000001" stroke="#222" stroke-width="1.0"/>
<text x="379.0" y="80.20000000000002" font-size="8.4" text-anchor="end" textLength="8.7" lengthAdjust="spacingAndGlyphs" fill="#333">50</text>
<line x1="382.2" y1="129.4" x2="385.5" y2="129.4" stroke="#222" stroke-width="1.0"/>
<text x="379.0" y="132.3" font-size="8.4" text-anchor="end" textLength="4.35" lengthAdjust="spacingAndGlyphs" fill="#333">0</text>
<line x1="414.4" y1="129.4" x2="414.4" y2="131.6" stroke="#222" stroke-width="1.0"/>
<line x1="457.6" y1="129.4" x2="457.6" y2="131.6" stroke="#222" stroke-width="1.0"/>
<text transform="translate(350.4,73.0) rotate(-90)" font-size="8.8" text-anchor="middle" fill="#333" textLength="69" lengthAdjust="spacingAndGlyphs">Proportion of cells in</text>
<text transform="translate(362.0,72.9) rotate(-90)" font-size="8.8" text-anchor="middle" fill="#333" textLength="51.5" lengthAdjust="spacingAndGlyphs">cycle phase (%)</text>
<text x="398.4" y="142.3" font-size="8.4" font-style="italic" textLength="22.8" lengthAdjust="spacingAndGlyphs" fill="#222">STAT1</text>
<text x="421.6" y="139.2" font-size="5.0" font-style="italic" textLength="9.6" lengthAdjust="spacingAndGlyphs" fill="#222">+/+</text>
<text x="442.7" y="142.3" font-size="8.4" font-style="italic" textLength="20.8" lengthAdjust="spacingAndGlyphs" fill="#222">STAT1</text>
<text x="464.0" y="139.2" font-size="5.0" font-style="italic" textLength="8.0" lengthAdjust="spacingAndGlyphs" fill="#222">−/−</text>
<text x="413.7" y="151.5" font-size="8.3" text-anchor="middle" textLength="13.4" lengthAdjust="spacingAndGlyphs" fill="#333">n=3</text>
<text x="457.3" y="151.5" font-size="8.3" text-anchor="middle" textLength="13.4" lengthAdjust="spacingAndGlyphs" fill="#333">n=3</text>
<rect x="484.1" y="26.3" width="5.5" height="5.4" fill="#cc0f2f" stroke="none" stroke-width="1"/>
<rect x="484.1" y="36.6" width="5.5" height="5.4" fill="#1b5e9d" stroke="none" stroke-width="1"/>
<rect x="484.1" y="46.7" width="5.5" height="5.4" fill="#3fae49" stroke="none" stroke-width="1"/>
<text x="493.1" y="31.9" font-size="8.2" textLength="5.4" lengthAdjust="spacingAndGlyphs" fill="#333">G</text>
<text x="498.8" y="33.5" font-size="5.6" textLength="3.0" lengthAdjust="spacingAndGlyphs" fill="#333">0</text>
<text x="493.1" y="42.1" font-size="8.2" textLength="5.4" lengthAdjust="spacingAndGlyphs" fill="#333">G</text>
<text x="498.8" y="43.7" font-size="5.6" textLength="3.0" lengthAdjust="spacingAndGlyphs" fill="#333">1</text>
<text x="493.2" y="52.5" font-size="8.2" textLength="12.3" lengthAdjust="spacingAndGlyphs" fill="#333">S-G</text>
<text x="505.8" y="54.4" font-size="5.6" textLength="3.1" lengthAdjust="spacingAndGlyphs" fill="#333">2</text>
<text x="509.2" y="52.5" font-size="8.2" textLength="9.9" lengthAdjust="spacingAndGlyphs" fill="#333">-M</text>
<polygon points="63.65,293.10 101.90,297.58 152.90,293.90 178.40,245.90 191.15,254.70 203.90,217.10 229.40,222.70 229.40,266.70 203.90,258.70 191.15,265.10 178.40,250.70 152.90,301.10 101.90,299.82 63.65,296.30" fill="#e58a9b" fill-opacity="0.5" stroke="none" stroke-width="1"/>
<polygon points="63.65,294.70 101.90,297.90 152.90,304.94 165.65,301.74 178.40,288.46 191.15,287.02 203.90,247.50 229.40,245.10 229.40,260.30 203.90,258.70 191.15,295.98 178.40,295.02 165.65,305.90 152.90,307.82 101.90,301.10 63.65,297.90" fill="#a8c4de" fill-opacity="0.55" style="mix-blend-mode:multiply"/>
<polyline points="63.65,296.30 101.90,299.50 152.90,306.38 165.65,303.98 178.40,291.50 191.15,291.02 203.90,253.90 229.40,251.50" fill="none" stroke="#1b4b76" stroke-width="1.4" stroke-linejoin="round"/>
<circle cx="63.65" cy="296.3" r="2.3" fill="#1b4b76"/>
<circle cx="101.9" cy="299.5" r="2.3" fill="#1b4b76"/>
<circle cx="152.9" cy="306.38" r="2.3" fill="#1b4b76"/>
<circle cx="165.65" cy="303.98" r="2.3" fill="#1b4b76"/>
<circle cx="178.4" cy="291.5" r="2.3" fill="#1b4b76"/>
<circle cx="191.15" cy="291.02" r="2.3" fill="#1b4b76"/>
<circle cx="203.9" cy="253.9" r="2.3" fill="#1b4b76"/>
<circle cx="229.4" cy="251.5" r="2.3" fill="#1b4b76"/>
<polyline points="63.65,294.70 101.90,298.70 152.90,298.30 178.40,248.30 191.15,260.30 203.90,233.90 229.40,245.10" fill="none" stroke="#c4102e" stroke-width="1.4" stroke-linejoin="round"/>
<circle cx="63.65" cy="294.7" r="2.3" fill="#c4102e"/>
<circle cx="101.9" cy="298.7" r="2.3" fill="#c4102e"/>
<circle cx="152.9" cy="298.3" r="2.3" fill="#c4102e"/>
<circle cx="178.4" cy="248.3" r="2.3" fill="#c4102e"/>
<circle cx="191.15" cy="260.3" r="2.3" fill="#c4102e"/>
<circle cx="203.9" cy="233.9" r="2.3" fill="#c4102e"/>
<circle cx="229.4" cy="245.1" r="2.3" fill="#c4102e"/>
<line x1="50.9" y1="180.89999999999998" x2="50.9" y2="314.5" stroke="#333" stroke-width="1.4"/>
<line x1="50.3" y1="313.9" x2="247.8" y2="313.9" stroke="#333" stroke-width="1.4"/>
<line x1="47.5" y1="313.9" x2="50.9" y2="313.9" stroke="#333" stroke-width="1.1"/>
<text x="44.699999999999996" y="317.0" font-size="8.6" text-anchor="end" textLength="4.43" lengthAdjust="spacingAndGlyphs" fill="#3a3a3a">0</text>
<line x1="47.5" y1="281.9" x2="50.9" y2="281.9" stroke="#333" stroke-width="1.1"/>
<text x="44.699999999999996" y="285.0" font-size="8.6" text-anchor="end" textLength="17.72" lengthAdjust="spacingAndGlyphs" fill="#3a3a3a">2000</text>
<line x1="47.5" y1="249.89999999999998" x2="50.9" y2="249.89999999999998" stroke="#333" stroke-width="1.1"/>
<text x="44.699999999999996" y="252.99999999999997" font-size="8.6" text-anchor="end" textLength="17.72" lengthAdjust="spacingAndGlyphs" fill="#3a3a3a">4000</text>
<line x1="47.5" y1="217.89999999999998" x2="50.9" y2="217.89999999999998" stroke="#333" stroke-width="1.1"/>
<text x="44.699999999999996" y="220.99999999999997" font-size="8.6" text-anchor="end" textLength="17.72" lengthAdjust="spacingAndGlyphs" fill="#3a3a3a">6000</text>
<line x1="47.5" y1="185.89999999999998" x2="50.9" y2="185.89999999999998" stroke="#333" stroke-width="1.1"/>
<text x="44.699999999999996" y="188.99999999999997" font-size="8.6" text-anchor="end" textLength="17.72" lengthAdjust="spacingAndGlyphs" fill="#3a3a3a">8000</text>
<line x1="50.9" y1="313.9" x2="50.9" y2="316.7" stroke="#333" stroke-width="1.1"/>
<text x="50.9" y="326.09999999999997" font-size="8.2" text-anchor="middle" fill="#3a3a3a">0</text>
<line x1="63.65" y1="313.9" x2="63.65" y2="315.9" stroke="#333" stroke-width="1.0"/>
<line x1="76.4" y1="313.9" x2="76.4" y2="316.7" stroke="#333" stroke-width="1.1"/>
<text x="76.4" y="326.09999999999997" font-size="8.2" text-anchor="middle" fill="#3a3a3a">2</text>
<line x1="89.15" y1="313.9" x2="89.15" y2="315.9" stroke="#333" stroke-width="1.0"/>
<line x1="101.9" y1="313.9" x2="101.9" y2="316.7" stroke="#333" stroke-width="1.1"/>
<text x="101.9" y="326.09999999999997" font-size="8.2" text-anchor="middle" fill="#3a3a3a">4</text>
<line x1="114.65" y1="313.9" x2="114.65" y2="315.9" stroke="#333" stroke-width="1.0"/>
<line x1="127.4" y1="313.9" x2="127.4" y2="316.7" stroke="#333" stroke-width="1.1"/>
<text x="127.4" y="326.09999999999997" font-size="8.2" text-anchor="middle" fill="#3a3a3a">6</text>
<line x1="140.15" y1="313.9" x2="140.15" y2="315.9" stroke="#333" stroke-width="1.0"/>
<line x1="152.9" y1="313.9" x2="152.9" y2="316.7" stroke="#333" stroke-width="1.1"/>
<text x="152.9" y="326.09999999999997" font-size="8.2" text-anchor="middle" fill="#3a3a3a">8</text>
<line x1="165.65" y1="313.9" x2="165.65" y2="315.9" stroke="#333" stroke-width="1.0"/>
<line x1="178.4" y1="313.9" x2="178.4" y2="316.7" stroke="#333" stroke-width="1.1"/>
<text x="178.4" y="326.09999999999997" font-size="8.2" text-anchor="middle" fill="#3a3a3a">10</text>
<line x1="191.15" y1="313.9" x2="191.15" y2="315.9" stroke="#333" stroke-width="1.0"/>
<line x1="203.9" y1="313.9" x2="203.9" y2="316.7" stroke="#333" stroke-width="1.1"/>
<text x="203.9" y="326.09999999999997" font-size="8.2" text-anchor="middle" fill="#3a3a3a">12</text>
<line x1="216.65" y1="313.9" x2="216.65" y2="315.9" stroke="#333" stroke-width="1.0"/>
<line x1="229.4" y1="313.9" x2="229.4" y2="316.7" stroke="#333" stroke-width="1.1"/>
<text x="229.4" y="326.09999999999997" font-size="8.2" text-anchor="middle" fill="#3a3a3a">14</text>
<text x="148.95000000000002" y="339.59999999999997" font-size="9.8" text-anchor="middle" textLength="81" lengthAdjust="spacingAndGlyphs" fill="#333">Days post 5′FU injection</text>
<text transform="translate(20.3,248.1) rotate(-90)" font-size="9.6" text-anchor="middle" fill="#333" textLength="77.0" lengthAdjust="spacingAndGlyphs">Platelet count (10<tspan font-size="6.2" dy="-3.2">3</tspan><tspan dy="3.2">/µl)</tspan></text>
<polygon points="153.30,280.70 153.89,281.89 155.20,282.08 154.25,283.01 154.48,284.32 153.30,283.70 152.12,284.32 152.35,283.01 151.40,282.08 152.71,281.89" fill="#1a1a1a" fill-opacity="1.0" stroke="none" stroke-width="1"/>
<polygon points="161.75,248.30 162.34,249.49 163.65,249.68 162.70,250.61 162.93,251.92 161.75,251.30 160.57,251.92 160.80,250.61 159.85,249.68 161.16,249.49" fill="#1a1a1a" fill-opacity="1.0" stroke="none" stroke-width="1"/>
<polygon points="166.05,248.30 166.64,249.49 167.95,249.68 167.00,250.61 167.23,251.92 166.05,251.30 164.87,251.92 165.10,250.61 164.15,249.68 165.46,249.49" fill="#1a1a1a" fill-opacity="1.0" stroke="none" stroke-width="1"/>
<polygon points="170.35,248.30 170.94,249.49 172.25,249.68 171.30,250.61 171.53,251.92 170.35,251.30 169.17,251.92 169.40,250.61 168.45,249.68 169.76,249.49" fill="#1a1a1a" fill-opacity="1.0" stroke="none" stroke-width="1"/>
<polygon points="174.25,235.80 174.84,236.99 176.15,237.18 175.20,238.11 175.43,239.42 174.25,238.80 173.07,239.42 173.30,238.11 172.35,237.18 173.66,236.99" fill="#1a1a1a" fill-opacity="1.0" stroke="none" stroke-width="1"/>
<polygon points="178.55,235.80 179.14,236.99 180.45,237.18 179.50,238.11 179.73,239.42 178.55,238.80 177.37,239.42 177.60,238.11 176.65,237.18 177.96,236.99" fill="#1a1a1a" fill-opacity="1.0" stroke="none" stroke-width="1"/>
<polygon points="182.85,235.80 183.44,236.99 184.75,237.18 183.80,238.11 184.03,239.42 182.85,238.80 181.67,239.42 181.90,238.11 180.95,237.18 182.26,236.99" fill="#1a1a1a" fill-opacity="1.0" stroke="none" stroke-width="1"/>
<polygon points="189.35,218.00 189.94,219.19 191.25,219.38 190.30,220.31 190.53,221.62 189.35,221.00 188.17,221.62 188.40,220.31 187.45,219.38 188.76,219.19" fill="#1a1a1a" fill-opacity="1.0" stroke="none" stroke-width="1"/>
<polygon points="193.65,218.00 194.24,219.19 195.55,219.38 194.60,220.31 194.83,221.62 193.65,221.00 192.47,221.62 192.70,220.31 191.75,219.38 193.06,219.19" fill="#1a1a1a" fill-opacity="1.0" stroke="none" stroke-width="1"/>
<line x1="61.2" y1="190.9" x2="75.5" y2="190.9" stroke="#c4102e" stroke-width="1.5"/>
<circle cx="68.4" cy="190.9" r="2.3" fill="#c4102e"/>
<text x="79.30000000000001" y="193.0" font-size="8.0" textLength="20.4" lengthAdjust="spacingAndGlyphs" fill="#333">STAT1</text>
<text x="100.9" y="189.6" font-size="4.8" textLength="7.4" lengthAdjust="spacingAndGlyphs" fill="#333">+/+</text>
<text x="111.70000000000002" y="193.0" font-size="8.0" textLength="12.7" lengthAdjust="spacingAndGlyphs" fill="#333">n=4</text>
<line x1="61.2" y1="204.5" x2="75.5" y2="204.5" stroke="#1b4b76" stroke-width="1.5"/>
<circle cx="68.4" cy="204.5" r="2.3" fill="#1b4b76"/>
<text x="79.30000000000001" y="206.6" font-size="8.0" textLength="20.4" lengthAdjust="spacingAndGlyphs" fill="#333">STAT1</text>
<text x="100.9" y="203.2" font-size="4.8" textLength="7.4" lengthAdjust="spacingAndGlyphs" fill="#333">−/−</text>
<text x="111.70000000000002" y="206.6" font-size="8.0" textLength="12.7" lengthAdjust="spacingAndGlyphs" fill="#333">n=8</text>
<polygon points="336.07,270.55 374.38,287.09 425.46,288.78 438.23,282.00 451.00,280.30 463.77,273.10 476.54,222.64 502.08,193.81 502.08,218.82 476.54,262.92 463.77,283.27 451.00,284.97 438.23,286.66 425.46,295.99 374.38,289.63 336.07,279.88" fill="#e58a9b" fill-opacity="0.5" stroke="none" stroke-width="1"/>
<polygon points="336.07,266.31 374.38,287.09 425.46,298.11 438.23,298.54 451.00,293.45 463.77,293.87 476.54,278.61 502.08,241.72 502.08,259.53 476.54,284.12 463.77,298.96 451.00,298.54 438.23,301.08 425.46,300.66 374.38,289.63 336.07,270.55" fill="#a8c4de" fill-opacity="0.55" style="mix-blend-mode:multiply"/>
<polyline points="336.07,268.43 374.38,288.36 425.46,299.38 438.23,299.81 451.00,295.99 463.77,296.84 476.54,282.00 502.08,251.05" fill="none" stroke="#1b4b76" stroke-width="1.4" stroke-linejoin="round"/>
<circle cx="336.07" cy="268.43" r="2.3" fill="#1b4b76"/>
<circle cx="374.38" cy="288.36" r="2.3" fill="#1b4b76"/>
<circle cx="425.46" cy="299.38" r="2.3" fill="#1b4b76"/>
<circle cx="438.23" cy="299.81" r="2.3" fill="#1b4b76"/>
<circle cx="451.0" cy="295.99" r="2.3" fill="#1b4b76"/>
<circle cx="463.77" cy="296.84" r="2.3" fill="#1b4b76"/>
<circle cx="476.54" cy="282.0" r="2.3" fill="#1b4b76"/>
<circle cx="502.08" cy="251.05" r="2.3" fill="#1b4b76"/>
<polyline points="336.07,273.52 374.38,288.36 425.46,293.87 438.23,284.54 451.00,282.85 463.77,279.03 476.54,246.81 502.08,206.53" fill="none" stroke="#c4102e" stroke-width="1.4" stroke-linejoin="round"/>
<circle cx="336.07" cy="273.52" r="2.3" fill="#c4102e"/>
<circle cx="374.38" cy="288.36" r="2.3" fill="#c4102e"/>
<circle cx="425.46" cy="293.87" r="2.3" fill="#c4102e"/>
<circle cx="438.23" cy="284.54" r="2.3" fill="#c4102e"/>
<circle cx="451.0" cy="282.85" r="2.3" fill="#c4102e"/>
<circle cx="463.77" cy="279.03" r="2.3" fill="#c4102e"/>
<circle cx="476.54" cy="246.81" r="2.3" fill="#c4102e"/>
<circle cx="502.08" cy="206.53" r="2.3" fill="#c4102e"/>
<line x1="323.3" y1="181.60000000000002" x2="323.3" y2="314.40000000000003" stroke="#333" stroke-width="1.4"/>
<line x1="322.7" y1="313.8" x2="520" y2="313.8" stroke="#333" stroke-width="1.4"/>
<line x1="319.90000000000003" y1="313.8" x2="323.3" y2="313.8" stroke="#333" stroke-width="1.1"/>
<text x="317.1" y="316.90000000000003" font-size="8.6" text-anchor="end" textLength="4.43" lengthAdjust="spacingAndGlyphs" fill="#3a3a3a">0</text>
<line x1="319.90000000000003" y1="271.4" x2="323.3" y2="271.4" stroke="#333" stroke-width="1.1"/>
<text x="317.1" y="274.5" font-size="8.6" text-anchor="end" textLength="8.86" lengthAdjust="spacingAndGlyphs" fill="#3a3a3a">10</text>
<line x1="319.90000000000003" y1="229.0" x2="323.3" y2="229.0" stroke="#333" stroke-width="1.1"/>
<text x="317.1" y="232.1" font-size="8.6" text-anchor="end" textLength="8.86" lengthAdjust="spacingAndGlyphs" fill="#3a3a3a">20</text>
<line x1="319.90000000000003" y1="186.60000000000002" x2="323.3" y2="186.60000000000002" stroke="#333" stroke-width="1.1"/>
<text x="317.1" y="189.70000000000002" font-size="8.6" text-anchor="end" textLength="8.86" lengthAdjust="spacingAndGlyphs" fill="#3a3a3a">30</text>
<line x1="323.3" y1="313.8" x2="323.3" y2="316.6" stroke="#333" stroke-width="1.1"/>
<text x="323.3" y="326.0" font-size="8.2" text-anchor="middle" fill="#3a3a3a">0</text>
<line x1="336.07" y1="313.8" x2="336.07" y2="315.8" stroke="#333" stroke-width="1.0"/>
<line x1="348.84000000000003" y1="313.8" x2="348.84000000000003" y2="316.6" stroke="#333" stroke-width="1.1"/>
<text x="348.84000000000003" y="326.0" font-size="8.2" text-anchor="middle" fill="#3a3a3a">2</text>
<line x1="361.61" y1="313.8" x2="361.61" y2="315.8" stroke="#333" stroke-width="1.0"/>
<line x1="374.38" y1="313.8" x2="374.38" y2="316.6" stroke="#333" stroke-width="1.1"/>
<text x="374.38" y="326.0" font-size="8.2" text-anchor="middle" fill="#3a3a3a">4</text>
<line x1="387.15" y1="313.8" x2="387.15" y2="315.8" stroke="#333" stroke-width="1.0"/>
<line x1="399.92" y1="313.8" x2="399.92" y2="316.6" stroke="#333" stroke-width="1.1"/>
<text x="399.92" y="326.0" font-size="8.2" text-anchor="middle" fill="#3a3a3a">6</text>
<line x1="412.69" y1="313.8" x2="412.69" y2="315.8" stroke="#333" stroke-width="1.0"/>
<line x1="425.46000000000004" y1="313.8" x2="425.46000000000004" y2="316.6" stroke="#333" stroke-width="1.1"/>
<text x="425.46000000000004" y="326.0" font-size="8.2" text-anchor="middle" fill="#3a3a3a">8</text>
<line x1="438.23" y1="313.8" x2="438.23" y2="315.8" stroke="#333" stroke-width="1.0"/>
<line x1="451.0" y1="313.8" x2="451.0" y2="316.6" stroke="#333" stroke-width="1.1"/>
<text x="451.0" y="326.0" font-size="8.2" text-anchor="middle" fill="#3a3a3a">10</text>
<line x1="463.77" y1="313.8" x2="463.77" y2="315.8" stroke="#333" stroke-width="1.0"/>
<line x1="476.54" y1="313.8" x2="476.54" y2="316.6" stroke="#333" stroke-width="1.1"/>
<text x="476.54" y="326.0" font-size="8.2" text-anchor="middle" fill="#3a3a3a">12</text>
<line x1="489.31" y1="313.8" x2="489.31" y2="315.8" stroke="#333" stroke-width="1.0"/>
<line x1="502.08000000000004" y1="313.8" x2="502.08000000000004" y2="316.6" stroke="#333" stroke-width="1.1"/>
<text x="502.08000000000004" y="326.0" font-size="8.2" text-anchor="middle" fill="#3a3a3a">14</text>
<text x="421.49000000000007" y="339.5" font-size="9.8" text-anchor="middle" textLength="81" lengthAdjust="spacingAndGlyphs" fill="#333">Days post 5′FU injection</text>
<text transform="translate(302.3,247.1) rotate(-90)" font-size="9.6" text-anchor="middle" fill="#333" textLength="45.4" lengthAdjust="spacingAndGlyphs">WBC (10<tspan font-size="6.2" dy="-3.2">3</tspan><tspan dy="3.2">/µl)</tspan></text>
<polygon points="438.20,272.80 438.79,273.99 440.10,274.18 439.15,275.11 439.38,276.42 438.20,275.80 437.02,276.42 437.25,275.11 436.30,274.18 437.61,273.99" fill="#1a1a1a" fill-opacity="1.0" stroke="none" stroke-width="1"/>
<polygon points="451.00,267.00 451.59,268.19 452.90,268.38 451.95,269.31 452.18,270.62 451.00,270.00 449.82,270.62 450.05,269.31 449.10,268.38 450.41,268.19" fill="#1a1a1a" fill-opacity="1.0" stroke="none" stroke-width="1"/>
<polygon points="460.75,251.80 461.34,252.99 462.65,253.18 461.70,254.11 461.93,255.42 460.75,254.80 459.57,255.42 459.80,254.11 458.85,253.18 460.16,252.99" fill="#1a1a1a" fill-opacity="1.0" stroke="none" stroke-width="1"/>
<polygon points="465.05,251.80 465.64,252.99 466.95,253.18 466.00,254.11 466.23,255.42 465.05,254.80 463.87,255.42 464.10,254.11 463.15,253.18 464.46,252.99" fill="#1a1a1a" fill-opacity="1.0" stroke="none" stroke-width="1"/>
<polygon points="476.30,219.00 476.89,220.19 478.20,220.38 477.25,221.31 477.48,222.62 476.30,222.00 475.12,222.62 475.35,221.31 474.40,220.38 475.71,220.19" fill="#1a1a1a" fill-opacity="1.0" stroke="none" stroke-width="1"/>
<polygon points="501.60,184.00 502.19,185.19 503.50,185.38 502.55,186.31 502.78,187.62 501.60,187.00 500.42,187.62 500.65,186.31 499.70,185.38 501.01,185.19" fill="#1a1a1a" fill-opacity="1.0" stroke="none" stroke-width="1"/>
<line x1="333.8" y1="190.6" x2="348.1" y2="190.6" stroke="#c4102e" stroke-width="1.5"/>
<circle cx="341.0" cy="190.6" r="2.3" fill="#c4102e"/>
<text x="350.90000000000003" y="192.7" font-size="8.0" textLength="20.4" lengthAdjust="spacingAndGlyphs" fill="#333">STAT1</text>
<text x="372.50000000000006" y="189.29999999999998" font-size="4.8" textLength="7.4" lengthAdjust="spacingAndGlyphs" fill="#333">+/+</text>
<text x="383.3" y="192.7" font-size="8.0" textLength="12.7" lengthAdjust="spacingAndGlyphs" fill="#333">n=4</text>
<line x1="333.8" y1="204.9" x2="348.1" y2="204.9" stroke="#1b4b76" stroke-width="1.5"/>
<circle cx="341.0" cy="204.9" r="2.3" fill="#1b4b76"/>
<text x="350.90000000000003" y="207.0" font-size="8.0" textLength="20.4" lengthAdjust="spacingAndGlyphs" fill="#333">STAT1</text>
<text x="372.50000000000006" y="203.6" font-size="4.8" textLength="7.4" lengthAdjust="spacingAndGlyphs" fill="#333">−/−</text>
<text x="383.3" y="207.0" font-size="8.0" textLength="12.7" lengthAdjust="spacingAndGlyphs" fill="#333">n=8</text>
<rect x="148.3" y="404.84000000000003" width="24.299999999999983" height="99.65999999999997" fill="#e4879a" stroke="none" stroke-width="1"/>
<line x1="160.45" y1="404.84000000000003" x2="160.45" y2="397.592" stroke="#222" stroke-width="1.0"/>
<line x1="154.14999999999998" y1="397.592" x2="166.75" y2="397.592" stroke="#222" stroke-width="1.2"/>
<circle cx="160.45" cy="391.25" r="2.25" fill="#c0103a"/>
<circle cx="160.15" cy="412.54" r="2.25" fill="#c0103a"/>
<circle cx="160.65" cy="415.26" r="2.25" fill="#c0103a"/>
<rect x="186.2" y="470.525" width="24.600000000000023" height="33.97500000000002" fill="#88a9c7" stroke="none" stroke-width="1"/>
<line x1="198.5" y1="470.525" x2="198.5" y2="467.1275" stroke="#222" stroke-width="1.0"/>
<line x1="192.2" y1="467.1275" x2="204.8" y2="467.1275" stroke="#222" stroke-width="1.2"/>
<circle cx="198.5" cy="458.29" r="2.25" fill="#1d4f82"/>
<circle cx="197.7" cy="473.7" r="2.25" fill="#1d4f82"/>
<circle cx="199.4" cy="472.79" r="2.25" fill="#1d4f82"/>
<circle cx="198.5" cy="475.06" r="2.25" fill="#1d4f82"/>
<circle cx="198.8" cy="471.88" r="2.25" fill="#1d4f82"/>
<line x1="135.6" y1="364.6" x2="135.6" y2="505.1" stroke="#222" stroke-width="1.2"/>
<line x1="135.0" y1="504.5" x2="220.4" y2="504.5" stroke="#222" stroke-width="1.2"/>
<line x1="131.9" y1="504.5" x2="135.6" y2="504.5" stroke="#222" stroke-width="1.0"/>
<text x="129.1" y="507.4" font-size="8.2" text-anchor="end" textLength="10.9" lengthAdjust="spacingAndGlyphs" fill="#333">0.0</text>
<line x1="131.9" y1="459.2" x2="135.6" y2="459.2" stroke="#222" stroke-width="1.0"/>
<text x="129.1" y="462.09999999999997" font-size="8.2" text-anchor="end" textLength="10.9" lengthAdjust="spacingAndGlyphs" fill="#333">0.1</text>
<line x1="131.9" y1="413.9" x2="135.6" y2="413.9" stroke="#222" stroke-width="1.0"/>
<text x="129.1" y="416.79999999999995" font-size="8.2" text-anchor="end" textLength="10.9" lengthAdjust="spacingAndGlyphs" fill="#333">0.2</text>
<line x1="131.9" y1="368.6" x2="135.6" y2="368.6" stroke="#222" stroke-width="1.0"/>
<text x="129.1" y="371.5" font-size="8.2" text-anchor="end" textLength="10.9" lengthAdjust="spacingAndGlyphs" fill="#333">0.3</text>
<line x1="160.45" y1="504.5" x2="160.45" y2="506.9" stroke="#222" stroke-width="1.0"/>
<line x1="198.5" y1="504.5" x2="198.5" y2="506.9" stroke="#222" stroke-width="1.0"/>
<polyline points="160.40,383.80 160.40,378.50 198.30,378.50 198.30,453.00" fill="none" stroke="#222" stroke-width="1.0" stroke-linejoin="round"/>
<polygon points="172.90,371.20 173.49,372.39 174.80,372.58 173.85,373.51 174.08,374.82 172.90,374.20 171.72,374.82 171.95,373.51 171.00,372.58 172.31,372.39" fill="#1a1a1a" fill-opacity="1.0" stroke="none" stroke-width="1"/>
<polygon points="177.10,371.20 177.69,372.39 179.00,372.58 178.05,373.51 178.28,374.82 177.10,374.20 175.92,374.82 176.15,373.51 175.20,372.58 176.51,372.39" fill="#1a1a1a" fill-opacity="1.0" stroke="none" stroke-width="1"/>
<polygon points="181.30,371.20 181.89,372.39 183.20,372.58 182.25,373.51 182.48,374.82 181.30,374.20 180.12,374.82 180.35,373.51 179.40,372.58 180.71,372.39" fill="#1a1a1a" fill-opacity="1.0" stroke="none" stroke-width="1"/>
<polygon points="185.50,371.20 186.09,372.39 187.40,372.58 186.45,373.51 186.68,374.82 185.50,374.20 184.32,374.82 184.55,373.51 183.60,372.58 184.91,372.39" fill="#1a1a1a" fill-opacity="1.0" stroke="none" stroke-width="1"/>
<text transform="translate(109.8,434.0) rotate(-90)" font-size="8.6" text-anchor="middle" fill="#333" textLength="59" lengthAdjust="spacingAndGlyphs">Spleen weight (g)</text>
<rect x="350.8" y="409.779" width="25.0" height="94.721" fill="#e4879a" stroke="none" stroke-width="1"/>
<line x1="363.3" y1="409.779" x2="363.3" y2="397.9606" stroke="#222" stroke-width="1.0"/>
<line x1="357.0" y1="397.9606" x2="369.6" y2="397.9606" stroke="#222" stroke-width="1.2"/>
<circle cx="363.3" cy="386.32" r="2.25" fill="#c0103a"/>
<circle cx="363.3" cy="400.22" r="2.25" fill="#c0103a"/>
<circle cx="363.3" cy="411.52" r="2.25" fill="#c0103a"/>
<circle cx="363.0" cy="441.93" r="2.25" fill="#c0103a"/>
<rect x="388.3" y="449.753" width="25.0" height="54.747000000000014" fill="#88a9c7" stroke="none" stroke-width="1"/>
<line x1="400.8" y1="449.753" x2="400.8" y2="446.6246" stroke="#222" stroke-width="1.0"/>
<line x1="394.5" y1="446.6246" x2="407.1" y2="446.6246" stroke="#222" stroke-width="1.2"/>
<circle cx="400.8" cy="445.41" r="2.25" fill="#1d4f82"/>
<circle cx="400.4" cy="452.71" r="2.25" fill="#1d4f82"/>
<circle cx="401.3" cy="452.01" r="2.25" fill="#1d4f82"/>
<circle cx="400.8" cy="450.62" r="2.25" fill="#1d4f82"/>
<line x1="337.0" y1="361.46" x2="337.0" y2="505.1" stroke="#222" stroke-width="1.2"/>
<line x1="336.4" y1="504.5" x2="424.3" y2="504.5" stroke="#222" stroke-width="1.2"/>
<line x1="333.3" y1="504.5" x2="337.0" y2="504.5" stroke="#222" stroke-width="1.0"/>
<text x="330.5" y="507.4" font-size="8.2" text-anchor="end" textLength="10.9" lengthAdjust="spacingAndGlyphs" fill="#333">0.0</text>
<line x1="333.3" y1="469.74" x2="337.0" y2="469.74" stroke="#222" stroke-width="1.0"/>
<text x="330.5" y="472.64" font-size="8.2" text-anchor="end" textLength="10.9" lengthAdjust="spacingAndGlyphs" fill="#333">0.2</text>
<line x1="333.3" y1="434.98" x2="337.0" y2="434.98" stroke="#222" stroke-width="1.0"/>
<text x="330.5" y="437.88" font-size="8.2" text-anchor="end" textLength="10.9" lengthAdjust="spacingAndGlyphs" fill="#333">0.4</text>
<line x1="333.3" y1="400.22" x2="337.0" y2="400.22" stroke="#222" stroke-width="1.0"/>
<text x="330.5" y="403.12" font-size="8.2" text-anchor="end" textLength="10.9" lengthAdjust="spacingAndGlyphs" fill="#333">0.6</text>
<line x1="333.3" y1="365.46" x2="337.0" y2="365.46" stroke="#222" stroke-width="1.0"/>
<text x="330.5" y="368.35999999999996" font-size="8.2" text-anchor="end" textLength="10.9" lengthAdjust="spacingAndGlyphs" fill="#333">0.8</text>
<line x1="363.3" y1="504.5" x2="363.3" y2="506.9" stroke="#222" stroke-width="1.0"/>
<line x1="400.8" y1="504.5" x2="400.8" y2="506.9" stroke="#222" stroke-width="1.0"/>
<polyline points="363.30,379.60 363.30,374.30 400.80,374.30 400.80,440.50" fill="none" stroke="#222" stroke-width="1.0" stroke-linejoin="round"/>
<polygon points="382.00,366.80 382.59,367.99 383.90,368.18 382.95,369.11 383.18,370.42 382.00,369.80 380.82,370.42 381.05,369.11 380.10,368.18 381.41,367.99" fill="#1a1a1a" fill-opacity="1.0" stroke="none" stroke-width="1"/>
<text transform="translate(312.4,433.8) rotate(-90)" font-size="8.6" text-anchor="middle" fill="#333" textLength="57.5" lengthAdjust="spacingAndGlyphs">Spleen weight (g)</text>
<text x="144.0" y="516.9" font-size="8.7" textLength="21.8" lengthAdjust="spacingAndGlyphs" fill="#333">STAT1</text>
<text x="167.1" y="513.6" font-size="5.2" textLength="8.8" lengthAdjust="spacingAndGlyphs" fill="#333">+/+</text>
<text x="160.5" y="525.8" font-size="8.3" text-anchor="middle" textLength="14.2" lengthAdjust="spacingAndGlyphs" fill="#333">n=3</text>
<text x="182.0" y="516.9" font-size="8.7" textLength="21.8" lengthAdjust="spacingAndGlyphs" fill="#333">STAT1</text>
<text x="205.1" y="513.6" font-size="5.2" textLength="8.8" lengthAdjust="spacingAndGlyphs" fill="#333">−/−</text>
<text x="198.5" y="525.8" font-size="8.3" text-anchor="middle" textLength="14.2" lengthAdjust="spacingAndGlyphs" fill="#333">n=5</text>
<text x="346.8" y="516.9" font-size="8.7" textLength="21.8" lengthAdjust="spacingAndGlyphs" fill="#333">STAT1</text>
<text x="369.90000000000003" y="513.6" font-size="5.2" textLength="8.8" lengthAdjust="spacingAndGlyphs" fill="#333">+/+</text>
<text x="363.3" y="525.8" font-size="8.3" text-anchor="middle" textLength="14.2" lengthAdjust="spacingAndGlyphs" fill="#333">n=3</text>
<text x="384.3" y="516.9" font-size="8.7" textLength="21.8" lengthAdjust="spacingAndGlyphs" fill="#333">STAT1</text>
<text x="407.40000000000003" y="513.6" font-size="5.2" textLength="8.8" lengthAdjust="spacingAndGlyphs" fill="#333">−/−</text>
<text x="400.8" y="525.8" font-size="8.3" text-anchor="middle" textLength="14.2" lengthAdjust="spacingAndGlyphs" fill="#333">n=4</text>
</svg>
</body></html>
